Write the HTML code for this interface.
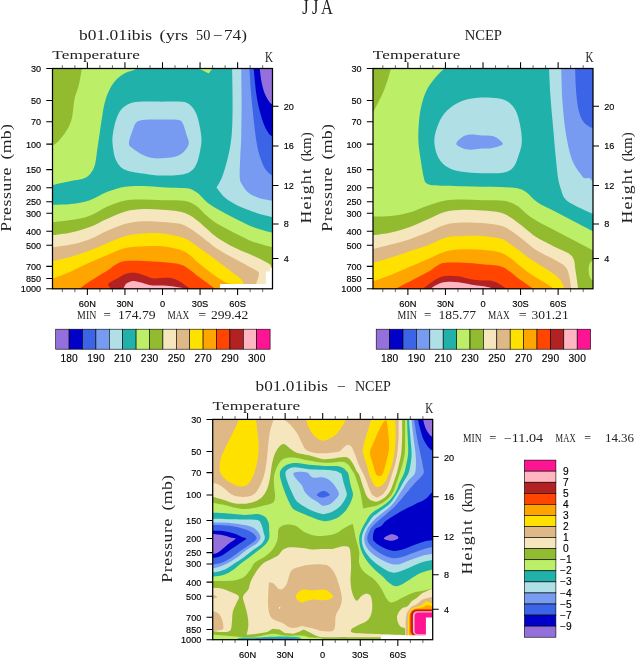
<!DOCTYPE html>
<html><head><meta charset="utf-8"><title>JJA Temperature</title>
<style>html,body{margin:0;padding:0;background:#fff}svg{display:block;will-change:transform}</style></head>
<body>
<svg width="636" height="659" viewBox="0 0 636 659">
<rect width="636" height="659" fill="#fff"/>
<text transform="translate(302.20,13.8) scale(0.7834,1)" font-size="21" font-family='"Liberation Serif", serif' fill="#222">J</text>
<text transform="translate(312.00,13.8) scale(0.7834,1)" font-size="21" font-family='"Liberation Serif", serif' fill="#222">J</text>
<text transform="translate(321.00,13.8) scale(0.7849,1)" font-size="21" font-family='"Liberation Serif", serif' fill="#222">A</text>
<g transform="translate(52.5,68.5)">
<clipPath id="clip52"><rect x="0" y="0" width="220.0" height="220.3"/></clipPath>
<g clip-path="url(#clip52)">
<rect x="0" y="0" width="220.0" height="220.3" fill="#20B2AA"/>
<path d="M82.5,-2.5C82.5,-1.9 84.2,-0.3 82.5,0.9C80.8,2.1 75.4,2.9 72.2,4.7C69.0,6.5 66.1,8.7 63.5,11.6C60.9,14.5 58.5,18.2 56.6,22.0C54.7,25.8 53.4,29.8 52.3,34.1C51.1,38.4 50.6,42.7 49.7,47.9C48.8,53.1 47.9,59.7 47.1,65.2C46.3,70.7 45.5,75.9 44.8,80.8C44.1,85.7 43.7,90.9 42.8,94.7C41.9,98.4 41.0,100.8 39.3,103.3C37.6,105.8 35.9,108.0 32.4,109.5C28.9,111.0 23.8,111.4 18.5,112.6C13.2,113.8 4.4,115.7 0.9,116.4C-2.6,117.1 -1.9,116.9 -2.5,117.0L-2.5,-2.5Z" fill="#BCEE68"/>
<path d="M29.8,-2.5C29.7,-2.0 29.9,-2.8 29.3,0.4C28.7,3.6 27.5,11.8 26.3,16.8C25.1,21.8 23.1,25.1 22.0,30.6C20.9,36.1 20.7,44.5 19.4,49.7C18.1,54.9 16.4,58.1 14.2,61.8C12.0,65.6 8.6,69.7 6.4,72.2C4.2,74.6 2.4,75.5 0.9,76.5C-0.6,77.5 -1.9,78.2 -2.5,78.5L-2.5,-2.5Z" fill="#93BB30"/>
<path d="M109.5,33.2C116.3,33.2 124.2,32.9 128.5,33.2C132.8,33.5 133.3,33.7 135.5,35.0C137.7,36.3 139.8,38.3 141.5,41.0C143.2,43.7 144.6,46.8 145.8,51.4C147.0,56.0 148.6,63.8 148.9,68.7C149.2,73.6 148.6,76.8 147.9,80.8C147.2,84.8 146.3,89.4 145.0,92.9C143.7,96.4 142.2,99.4 139.8,101.6C137.4,103.8 135.4,105.0 130.3,105.9C125.3,106.8 115.2,107.1 109.5,107.1C103.8,107.1 101.5,106.5 96.4,105.9C91.3,105.3 83.7,104.5 79.1,103.3C74.5,102.2 71.5,101.3 68.7,99.0C66.0,96.7 64.0,93.4 62.6,89.5C61.2,85.6 60.5,79.6 60.1,75.6C59.7,71.5 59.8,69.2 60.4,65.2C61.0,61.2 62.1,55.4 63.5,51.4C64.9,47.4 66.4,43.7 68.7,41.0C71.0,38.3 74.3,36.3 77.4,35.0C80.5,33.7 82.2,33.5 87.5,33.2C92.8,32.9 102.7,33.2 109.5,33.2Z" fill="#B0E0E6"/>
<path d="M109.5,51.1C115.1,51.1 122.4,50.8 125.9,51.4C129.4,52.0 129.0,52.6 130.3,54.9C131.6,57.2 132.7,61.9 133.7,65.2C134.7,68.5 136.6,71.9 136.3,74.8C136.0,77.7 134.2,80.3 132.0,82.5C129.8,84.7 127.1,86.9 123.3,88.1C119.6,89.3 113.4,89.6 109.5,89.8C105.6,90.0 103.1,90.1 99.8,89.5C96.5,88.9 93.0,87.7 89.5,86.0C86.0,84.3 81.3,81.1 79.1,79.1C76.9,77.1 76.2,77.1 76.5,73.9C76.8,70.7 79.5,63.5 80.8,60.1C82.1,56.7 82.4,55.0 84.3,53.5C86.3,52.0 88.3,51.7 92.5,51.3C96.7,50.9 103.9,51.1 109.5,51.1Z" fill="#789BF2"/>
<path d="M147.5,-2.5L159.5,-2.5L159.5,0.5L156.2,5.0L147.5,0.5Z" fill="#BCEE68"/>
<path d="M179.6,-2.5C179.6,-2.0 179.5,-5.6 179.6,0.5C179.7,6.6 180.1,24.2 180.1,34.1C180.1,44.0 180.0,52.9 179.6,60.1C179.2,67.3 178.7,71.9 177.8,77.4C176.9,82.9 175.8,87.6 174.4,92.9C173.0,98.2 170.9,105.2 169.2,109.5C167.5,113.8 164.9,117.4 164.0,119.0L164.0,119.0C165.3,120.6 168.8,125.8 171.8,128.5C174.8,131.2 178.2,133.3 182.2,135.5C186.2,137.7 191.7,139.8 196.0,141.5C200.3,143.2 204.2,144.7 208.1,145.8C212.0,147.0 217.1,147.9 219.5,148.4C221.9,148.9 222.0,148.9 222.5,149.0L222.5,-2.5Z" fill="#B0E0E6"/>
<path d="M188.7,-2.5C188.7,-2.0 188.6,-5.6 188.7,0.5C188.8,6.6 189.1,22.7 189.1,34.1C189.1,45.5 188.9,59.5 188.7,68.7C188.5,77.9 187.9,82.7 187.7,89.5C187.5,96.3 186.9,105.0 187.3,109.5C187.7,114.0 188.5,114.0 189.9,116.4C191.3,118.9 193.2,122.0 196.0,124.2C198.8,126.4 202.5,128.1 206.4,129.4C210.3,130.7 216.8,131.5 219.5,132.0C222.2,132.5 222.0,132.4 222.5,132.5L222.5,-2.5Z" fill="#789BF2"/>
<path d="M196.7,-2.5C196.7,-2.0 196.6,-4.2 196.9,0.5C197.2,5.2 197.9,17.0 198.6,25.5C199.3,34.0 200.2,42.8 201.2,51.4C202.2,60.1 203.3,70.2 204.7,77.4C206.1,84.6 208.1,90.4 209.8,94.7C211.5,99.0 213.4,101.3 215.0,103.3C216.6,105.3 218.2,105.9 219.5,106.8C220.8,107.7 222.0,108.2 222.5,108.5L222.5,-2.5Z" fill="#3C64E6"/>
<path d="M201.0,-2.5C201.0,-2.0 200.7,-4.2 201.2,0.5C201.7,5.2 202.8,18.4 203.8,25.5C204.8,32.5 206.0,37.6 207.3,42.8C208.6,48.0 210.2,53.0 211.6,56.6C213.0,60.2 214.6,62.5 215.9,64.4C217.2,66.3 218.4,66.9 219.5,67.8C220.6,68.7 222.0,69.6 222.5,70.0L222.5,-2.5Z" fill="#0000C8"/>
<path d="M207.1,-2.5C207.1,-2.0 207.0,-2.1 207.3,0.5C207.6,3.1 208.2,9.1 209.0,13.3C209.8,17.5 211.1,22.2 212.4,25.5C213.7,28.8 215.6,31.5 216.8,33.2C218.0,34.9 218.6,35.0 219.5,35.8C220.4,36.6 222.0,37.6 222.5,38.0L222.5,-2.5Z" fill="#9370DB"/>
<path d="M-2.5,136.5C-1.9,136.4 -2.6,136.5 0.9,136.3C4.4,136.1 12.5,136.2 18.5,135.5C24.5,134.8 30.6,134.0 36.7,132.0C42.8,130.0 48.9,125.6 54.9,123.3C61.0,121.0 67.0,119.1 73.0,118.2C79.0,117.2 85.1,117.5 91.2,117.6C97.3,117.7 103.4,118.4 109.5,118.7C115.6,119.0 123.1,119.2 127.7,119.4C132.3,119.7 134.2,119.2 137.2,120.2C140.2,121.1 142.9,122.8 145.8,125.1C148.7,127.3 151.3,131.1 154.5,133.7C157.7,136.3 160.2,137.8 164.9,140.6C169.7,143.3 176.9,147.2 183.0,150.2C189.1,153.2 195.1,156.5 201.2,158.8C207.3,161.1 215.9,163.0 219.5,164.0C223.1,165.0 222.0,164.8 222.5,165.0L222.5,223.5L-2.5,223.5Z" fill="#BCEE68"/>
<path d="M-2.5,154.0C-1.9,153.9 -2.6,154.0 0.9,153.6C4.4,153.2 12.5,152.5 18.5,151.5C24.5,150.5 30.6,149.8 36.7,147.6C42.8,145.3 48.9,140.6 54.9,138.0C61.0,135.4 67.0,133.2 73.0,132.0C79.0,130.8 85.1,131.1 91.2,131.1C97.3,131.1 103.4,131.7 109.5,131.8C115.6,132.0 123.1,131.7 127.7,132.0C132.3,132.3 134.2,132.5 137.2,133.7C140.2,134.8 142.9,136.6 145.8,138.9C148.7,141.2 151.3,144.9 154.5,147.6C157.7,150.3 160.2,152.4 164.9,155.3C169.7,158.2 176.9,161.9 183.0,164.9C189.1,167.9 195.1,171.2 201.2,173.5C207.3,175.8 215.9,177.7 219.5,178.7C223.1,179.7 222.0,179.5 222.5,179.7L222.5,223.5L-2.5,223.5Z" fill="#93BB30"/>
<path d="M-2.5,167.1C-1.9,167.0 -2.6,167.1 0.9,166.6C4.4,166.1 12.5,165.3 18.5,164.0C24.5,162.7 30.6,161.1 36.7,158.8C42.8,156.5 48.9,152.8 54.9,150.2C61.0,147.5 67.0,144.5 73.0,142.9C79.0,141.3 85.1,140.9 91.2,140.6C97.3,140.3 103.4,140.9 109.5,141.3C115.6,141.7 123.1,142.3 127.7,143.2C132.3,144.1 134.2,145.1 137.2,146.7C140.2,148.3 142.9,150.5 145.8,152.8C148.7,155.1 151.3,157.8 154.5,160.5C157.7,163.2 160.2,166.0 164.9,169.2C169.7,172.4 176.9,176.6 183.0,179.6C189.1,182.6 196.1,185.1 201.2,187.4C206.2,189.7 210.6,192.0 213.3,193.4C216.0,194.8 216.6,195.0 217.6,196.0C218.6,197.0 218.7,198.6 219.5,199.5C220.3,200.4 222.0,201.2 222.5,201.5L222.5,223.5L-2.5,223.5Z" fill="#F5E6BE"/>
<path d="M-2.5,179.3C-1.9,179.2 -2.6,179.2 0.9,178.7C4.4,178.2 12.5,177.4 18.5,176.1C24.5,174.8 30.6,173.2 36.7,170.9C42.8,168.6 48.9,164.9 54.9,162.3C61.0,159.7 67.0,156.9 73.0,155.3C79.0,153.7 85.1,153.1 91.2,152.8C97.3,152.5 103.4,153.0 109.5,153.4C115.6,153.8 123.1,154.2 127.7,155.3C132.3,156.4 134.2,158.0 137.2,159.7C140.2,161.4 142.9,163.5 145.8,165.7C148.7,167.8 151.3,170.1 154.5,172.6C157.7,175.1 160.2,177.4 164.9,180.4C169.7,183.4 177.8,187.9 183.0,190.8C188.2,193.7 192.5,195.8 196.0,197.7C199.5,199.6 202.1,200.9 203.8,202.1C205.5,203.3 206.1,203.4 206.4,204.7C206.7,206.0 205.9,208.0 205.5,209.8C205.1,211.6 204.1,213.1 203.8,215.4C203.5,217.7 203.6,222.2 203.5,223.5L-2.5,223.5Z" fill="#DEB887"/>
<path d="M-2.5,193.3C-1.9,193.2 -2.6,193.3 0.9,192.5C4.4,191.7 12.5,189.9 18.5,188.2C24.5,186.5 30.6,184.5 36.7,182.2C42.8,179.9 48.9,176.8 54.9,174.4C61.0,172.0 67.0,169.1 73.0,167.5C79.0,165.9 85.1,165.3 91.2,164.9C97.3,164.5 103.4,164.3 109.5,164.9C115.6,165.5 123.1,167.0 127.7,168.3C132.3,169.6 134.2,170.9 137.2,172.6C140.2,174.3 142.9,176.7 145.8,178.7C148.7,180.7 151.3,182.5 154.5,184.8C157.7,187.1 160.9,189.5 164.9,192.5C168.9,195.5 175.2,200.3 178.7,202.9C182.1,205.5 183.7,206.5 185.6,208.1C187.5,209.7 189.0,211.2 189.9,212.4C190.8,213.6 190.6,213.5 190.8,215.4C191.0,217.2 191.0,222.2 191.0,223.5L-2.5,223.5Z" fill="#FFE100"/>
<path d="M-2.5,211.1C-1.9,210.9 -2.6,211.2 0.9,209.8C4.4,208.4 12.5,205.5 18.5,202.9C24.5,200.3 30.6,197.0 36.7,194.3C42.8,191.6 48.9,188.9 54.9,186.5C61.0,184.1 67.0,181.0 73.0,179.6C79.0,178.2 85.1,178.1 91.2,177.8C97.3,177.5 103.4,177.2 109.5,177.8C115.6,178.4 123.1,179.9 127.7,181.3C132.3,182.8 134.2,184.3 137.2,186.5C140.2,188.7 142.9,191.9 145.8,194.3C148.7,196.8 151.3,198.8 154.5,201.2C157.7,203.6 161.7,206.8 164.9,209.0C168.1,211.2 171.5,213.1 173.5,214.2C175.5,215.3 176.2,213.8 177.0,215.4C177.8,216.9 178.2,222.2 178.5,223.5L-2.5,223.5Z" fill="#FFA500"/>
<path d="M23.5,223.5C24.2,222.8 25.8,221.2 28.0,219.5C30.2,217.8 32.2,216.2 36.7,213.3C41.2,210.4 50.4,205.0 54.9,202.1C59.4,199.2 60.5,197.6 63.5,196.0C66.5,194.4 68.4,193.1 73.0,192.5C77.6,191.9 85.1,192.3 91.2,192.5C97.3,192.7 103.4,193.0 109.5,193.6C115.6,194.2 123.1,194.7 127.7,196.0C132.3,197.3 134.2,199.2 137.2,201.2C140.2,203.2 142.9,205.9 145.8,208.1C148.7,210.3 151.9,212.3 154.5,214.2C157.1,216.1 159.6,217.9 161.4,219.5C163.2,221.1 164.8,222.8 165.5,223.5Z" fill="#FF4500"/>
<path d="M58.0,223.5C58.0,222.8 58.1,220.9 57.8,219.5C57.5,218.1 54.8,216.9 56.0,215.3C57.2,213.7 62.4,211.4 65.2,209.8C68.0,208.2 70.1,206.4 73.0,205.5C75.9,204.6 79.2,204.0 82.5,204.3C85.8,204.6 90.0,206.4 92.9,207.3C95.8,208.2 97.0,209.5 99.8,209.8C102.6,210.2 106.2,209.4 109.5,209.4C112.8,209.4 116.9,209.2 119.9,209.8C122.9,210.5 125.4,212.0 127.7,213.3C130.0,214.6 132.3,216.6 133.7,217.6C135.1,218.6 135.3,218.5 136.3,219.5C137.3,220.5 139.0,222.8 139.5,223.5Z" fill="#B22222"/>
<path d="M69.5,223.5C69.8,222.8 70.6,220.9 71.3,219.5C72.0,218.1 72.3,216.2 73.9,215.0C75.5,213.8 78.2,212.5 80.8,212.4C83.4,212.3 86.6,213.5 89.5,214.2C92.4,214.9 94.8,216.3 98.1,216.8C101.4,217.3 106.5,217.0 109.5,217.1C112.5,217.2 114.2,217.3 116.4,217.5C118.6,217.7 120.7,217.9 122.5,218.2C124.3,218.5 126.2,218.8 127.5,219.1C128.8,219.4 129.8,219.4 130.5,220.1C131.2,220.8 131.3,222.9 131.5,223.5Z" fill="#FFB6C1"/>
<path d="M167.5,215.4L213.3,215.4L213.3,203.0L217.5,203.0L217.5,199.5L222.5,199.5L222.5,223.5L167.5,223.5Z" fill="#fff"/>
</g>
<rect x="0" y="0" width="220.0" height="220.3" fill="none" stroke="#000" stroke-width="1.25"/>
<path d="M-6.2,0.00H0 M-6.2,32.09H0 M-6.2,53.23H0 M-6.2,75.64H0 M-6.2,101.11H0 M-6.2,119.19H0 M-6.2,133.21H0 M-6.2,144.66H0 M-6.2,162.73H0 M-6.2,176.75H0 M-6.2,197.89H0 M-6.2,210.09H0 M-6.2,220.30H0 M220.0,189.90h6 M220.0,155.41h6 M220.0,117.05h6 M220.0,77.44h6 M220.0,37.79h6 M185.12,0v-6.3 M185.12,220.3v6.3 M147.56,0v-6.3 M147.56,220.3v6.3 M110.00,0v-6.3 M110.00,220.3v6.3 M72.44,0v-6.3 M72.44,220.3v6.3 M34.88,0v-6.3 M34.88,220.3v6.3" stroke="#000" stroke-width="1.05" fill="none"/>
<path d="M210.16,0v-3.3 M210.16,220.3v3.3 M197.64,0v-3.3 M197.64,220.3v3.3 M172.60,0v-3.3 M172.60,220.3v3.3 M160.08,0v-3.3 M160.08,220.3v3.3 M135.04,0v-3.3 M135.04,220.3v3.3 M122.52,0v-3.3 M122.52,220.3v3.3 M97.48,0v-3.3 M97.48,220.3v3.3 M84.96,0v-3.3 M84.96,220.3v3.3 M59.92,0v-3.3 M59.92,220.3v3.3 M47.40,0v-3.3 M47.40,220.3v3.3 M22.36,0v-3.3 M22.36,220.3v3.3 M9.84,0v-3.3 M9.84,220.3v3.3" stroke="#000" stroke-width="0.6" fill="none"/>
<text transform="translate(-11.4,3.40) scale(0.93,1)" font-size="9.8" font-family='"Liberation Sans", sans-serif' text-anchor="end" stroke="#000" stroke-width="0.15">30</text>
<text transform="translate(-11.4,35.49) scale(0.93,1)" font-size="9.8" font-family='"Liberation Sans", sans-serif' text-anchor="end" stroke="#000" stroke-width="0.15">50</text>
<text transform="translate(-11.4,56.63) scale(0.93,1)" font-size="9.8" font-family='"Liberation Sans", sans-serif' text-anchor="end" stroke="#000" stroke-width="0.15">70</text>
<text transform="translate(-11.4,79.04) scale(0.93,1)" font-size="9.8" font-family='"Liberation Sans", sans-serif' text-anchor="end" stroke="#000" stroke-width="0.15">100</text>
<text transform="translate(-11.4,104.51) scale(0.93,1)" font-size="9.8" font-family='"Liberation Sans", sans-serif' text-anchor="end" stroke="#000" stroke-width="0.15">150</text>
<text transform="translate(-11.4,122.59) scale(0.93,1)" font-size="9.8" font-family='"Liberation Sans", sans-serif' text-anchor="end" stroke="#000" stroke-width="0.15">200</text>
<text transform="translate(-11.4,136.61) scale(0.93,1)" font-size="9.8" font-family='"Liberation Sans", sans-serif' text-anchor="end" stroke="#000" stroke-width="0.15">250</text>
<text transform="translate(-11.4,148.06) scale(0.93,1)" font-size="9.8" font-family='"Liberation Sans", sans-serif' text-anchor="end" stroke="#000" stroke-width="0.15">300</text>
<text transform="translate(-11.4,166.13) scale(0.93,1)" font-size="9.8" font-family='"Liberation Sans", sans-serif' text-anchor="end" stroke="#000" stroke-width="0.15">400</text>
<text transform="translate(-11.4,180.15) scale(0.93,1)" font-size="9.8" font-family='"Liberation Sans", sans-serif' text-anchor="end" stroke="#000" stroke-width="0.15">500</text>
<text transform="translate(-11.4,201.29) scale(0.93,1)" font-size="9.8" font-family='"Liberation Sans", sans-serif' text-anchor="end" stroke="#000" stroke-width="0.15">700</text>
<text transform="translate(-11.4,213.49) scale(0.93,1)" font-size="9.8" font-family='"Liberation Sans", sans-serif' text-anchor="end" stroke="#000" stroke-width="0.15">850</text>
<text transform="translate(-11.4,223.70) scale(0.93,1)" font-size="9.8" font-family='"Liberation Sans", sans-serif' text-anchor="end" stroke="#000" stroke-width="0.15">1000</text>
<text transform="translate(231.3,193.30) scale(0.93,1)" font-size="9.8" font-family='"Liberation Sans", sans-serif' text-anchor="start" stroke="#000" stroke-width="0.15">4</text>
<text transform="translate(231.3,158.81) scale(0.93,1)" font-size="9.8" font-family='"Liberation Sans", sans-serif' text-anchor="start" stroke="#000" stroke-width="0.15">8</text>
<text transform="translate(231.3,120.45) scale(0.93,1)" font-size="9.8" font-family='"Liberation Sans", sans-serif' text-anchor="start" stroke="#000" stroke-width="0.15">12</text>
<text transform="translate(231.3,80.84) scale(0.93,1)" font-size="9.8" font-family='"Liberation Sans", sans-serif' text-anchor="start" stroke="#000" stroke-width="0.15">16</text>
<text transform="translate(231.3,41.19) scale(0.93,1)" font-size="9.8" font-family='"Liberation Sans", sans-serif' text-anchor="start" stroke="#000" stroke-width="0.15">20</text>
<text transform="translate(34.88,238.5) scale(0.95,1)" font-size="9.8" font-family='"Liberation Sans", sans-serif' text-anchor="middle" stroke="#000" stroke-width="0.15">60N</text>
<text transform="translate(72.44,238.5) scale(0.95,1)" font-size="9.8" font-family='"Liberation Sans", sans-serif' text-anchor="middle" stroke="#000" stroke-width="0.15">30N</text>
<text transform="translate(110.00,238.5) scale(0.95,1)" font-size="9.8" font-family='"Liberation Sans", sans-serif' text-anchor="middle" stroke="#000" stroke-width="0.15">0</text>
<text transform="translate(147.56,238.5) scale(0.95,1)" font-size="9.8" font-family='"Liberation Sans", sans-serif' text-anchor="middle" stroke="#000" stroke-width="0.15">30S</text>
<text transform="translate(185.12,238.5) scale(0.95,1)" font-size="9.8" font-family='"Liberation Sans", sans-serif' text-anchor="middle" stroke="#000" stroke-width="0.15">60S</text>
<text transform="translate(26.50,-28.4) scale(1.2288,1)" font-size="14.2" font-family='"Liberation Serif", serif' fill="#222">b01.01ibis</text>
<text transform="translate(107.10,-28.4) scale(1.2862,1)" font-size="14.2" font-family='"Liberation Serif", serif' fill="#222">(yrs</text>
<text transform="translate(143.60,-28.4) scale(1.0070,1)" font-size="14.2" font-family='"Liberation Serif", serif' fill="#222">50</text>
<text transform="translate(160.30,-28.4) scale(1.1987,1)" font-size="14.2" font-family='"Liberation Serif", serif' fill="#222">&#8722;</text>
<text transform="translate(171.40,-28.4) scale(1.2151,1)" font-size="14.2" font-family='"Liberation Serif", serif' fill="#222">74)</text>
<text transform="translate(-0.20,-9.9) scale(1.3000,1)" font-size="13.2" font-family='"Liberation Serif", serif' letter-spacing="0.096" fill="#222">Temperature</text>
<text transform="translate(212.50,-6.6) scale(0.7589,1)" font-size="14.6" font-family='"Liberation Serif", serif' fill="#222">K</text>
<text transform="translate(-41.1,163.30) rotate(-90) scale(1.3000,1)" font-size="13.6" font-family='"Liberation Serif", serif' letter-spacing="0.462" fill="#222">Pressure</text>
<text transform="translate(-41.1,91.00) rotate(-90) scale(1.3000,1)" font-size="13.6" font-family='"Liberation Serif", serif' letter-spacing="0.264" fill="#222">(mb)</text>
<text transform="translate(258.8,155.10) rotate(-90) scale(1.3000,1)" font-size="13.6" font-family='"Liberation Serif", serif' letter-spacing="0.981" fill="#222">Height</text>
<text transform="translate(258.8,92.90) rotate(-90) scale(1.1007,1)" font-size="13.6" font-family='"Liberation Serif", serif' fill="#222">(km)</text>
</g>
<g transform="translate(373.0,68.5)">
<clipPath id="clip373"><rect x="0" y="0" width="220.0" height="220.3"/></clipPath>
<g clip-path="url(#clip373)">
<rect x="0" y="0" width="220.0" height="220.3" fill="#BCEE68"/>
<path d="M18.2,-2.5C18.1,-2.0 18.3,-1.9 17.7,0.4C17.1,2.8 15.9,7.7 14.6,11.6C13.4,15.5 11.8,20.0 10.2,23.7C8.6,27.5 6.6,31.1 5.1,34.1C3.6,37.1 2.5,39.5 1.1,41.9C-0.2,44.3 -2.3,47.4 -3.0,48.5L-3.0,-2.5Z" fill="#93BB30"/>
<path d="M73.0,-2.5C72.6,-2.0 72.5,-1.4 70.8,0.4C69.1,2.2 65.7,4.9 63.0,8.2C60.3,11.5 56.7,16.0 54.4,20.3C52.1,24.6 50.6,28.9 49.2,34.1C47.8,39.3 46.7,45.1 46.1,51.4C45.5,57.8 45.2,65.8 45.4,72.2C45.6,78.5 46.5,83.3 47.4,89.5C48.3,95.7 49.9,105.3 50.9,109.5C51.9,113.7 52.0,113.5 53.5,114.7C55.0,115.9 56.4,116.4 59.6,116.8C62.8,117.2 67.3,117.1 72.5,117.3C77.7,117.5 84.6,117.7 90.7,117.8C96.8,118.0 102.9,118.1 109.0,118.2C115.1,118.3 121.1,118.2 127.2,118.5C133.2,118.8 140.8,119.0 145.3,119.9C149.8,120.9 150.8,121.9 154.0,124.2C157.2,126.5 159.6,130.5 164.4,133.7C169.1,136.9 176.4,140.0 182.5,143.2C188.6,146.4 194.6,149.6 200.7,152.8C206.8,156.0 215.3,160.4 219.0,162.3C222.7,164.2 222.3,164.1 223.0,164.5L223.0,-2.5Z" fill="#20B2AA"/>
<path d="M109.0,28.9C113.8,28.8 120.3,29.1 124.6,29.8C128.9,30.5 132.0,31.2 135.0,33.2C138.0,35.2 140.7,38.0 142.7,41.9C144.7,45.8 146.1,51.3 147.1,56.6C148.1,61.9 149.1,68.7 148.8,73.9C148.5,79.1 146.7,83.5 145.3,87.7C143.8,91.9 142.7,96.2 140.1,99.0C137.5,101.8 135.0,103.2 129.8,104.2C124.6,105.1 115.8,104.8 109.0,104.7C102.2,104.5 94.6,104.3 89.0,103.3C83.4,102.4 79.0,101.3 75.1,99.0C71.2,96.7 67.9,94.0 65.6,89.5C63.3,85.0 61.3,78.0 61.3,72.2C61.3,66.4 63.6,59.8 65.6,54.9C67.6,50.0 70.4,46.1 73.4,42.8C76.4,39.5 80.1,37.0 83.8,35.0C87.6,33.0 91.7,31.6 95.9,30.6C100.1,29.6 104.2,29.0 109.0,28.9Z" fill="#B0E0E6"/>
<path d="M109.0,67.0C112.6,67.2 116.7,66.9 119.4,67.5C122.1,68.1 123.7,69.1 125.4,70.4C127.1,71.7 129.9,74.0 129.8,75.3C129.7,76.6 126.9,77.4 124.6,78.2C122.3,79.0 118.5,79.7 115.9,80.0C113.3,80.3 112.0,79.9 109.0,80.1C106.0,80.3 100.9,81.3 97.6,81.2C94.3,81.1 91.4,80.4 89.0,79.4C86.6,78.4 83.3,77.1 83.3,75.3C83.3,73.5 86.6,70.2 89.0,68.7C91.4,67.2 94.3,66.4 97.6,66.1C100.9,65.8 105.4,66.8 109.0,67.0Z" fill="#789BF2"/>
<path d="M176.0,-2.5C176.0,-2.0 175.9,-4.3 176.1,0.4C176.3,5.1 176.7,16.1 177.3,25.5C177.9,34.9 179.0,46.5 179.9,56.6C180.8,66.7 181.6,77.2 182.5,86.0C183.4,94.8 184.2,103.8 185.1,109.5C186.0,115.2 186.6,116.4 187.7,119.9C188.9,123.4 189.6,127.4 192.0,130.3C194.4,133.2 197.9,134.8 202.4,137.2C206.9,139.6 215.6,143.4 219.0,145.0C222.4,146.6 222.3,146.7 223.0,147.0L223.0,-2.5Z" fill="#B0E0E6"/>
<path d="M188.1,-2.5C188.1,-2.0 188.0,-5.7 188.2,0.4C188.4,6.5 188.7,23.3 189.5,34.1C190.3,44.9 191.3,55.7 192.9,65.2C194.5,74.7 196.4,84.3 199.0,91.2C201.6,98.1 206.5,103.8 208.5,106.8C210.5,109.9 209.7,109.0 211.0,109.5C212.3,110.0 215.0,109.1 216.3,109.5C217.6,109.9 217.9,111.1 219.0,112.1C220.1,113.1 222.3,114.9 223.0,115.5L223.0,-2.5Z" fill="#789BF2"/>
<path d="M202.0,-2.5C202.0,-2.0 201.9,-4.3 202.1,0.4C202.3,5.1 202.7,18.4 203.3,25.5C203.9,32.6 204.7,38.2 205.9,42.8C207.0,47.4 208.5,50.5 210.2,53.1C211.9,55.7 214.8,57.3 216.3,58.3C217.8,59.3 217.9,58.9 219.0,59.2C220.1,59.5 222.3,59.9 223.0,60.0L223.0,-2.5Z" fill="#3C64E6"/>
<path d="M-3.0,148.0C-2.4,148.0 -2.8,148.0 0.7,147.9C4.2,147.8 12.1,148.2 18.0,147.6C23.9,147.0 30.1,145.8 36.2,144.1C42.3,142.4 48.3,139.2 54.4,137.2C60.4,135.2 66.5,133.0 72.5,132.0C78.5,131.0 84.6,131.1 90.7,131.1C96.8,131.1 102.9,131.7 109.0,131.8C115.1,132.0 122.6,131.7 127.2,132.0C131.8,132.3 133.7,132.7 136.7,133.7C139.7,134.7 142.4,136.0 145.3,138.0C148.2,140.0 150.8,143.3 154.0,145.8C157.2,148.3 159.6,150.1 164.4,152.8C169.1,155.6 176.4,159.1 182.5,162.3C188.6,165.5 194.6,168.6 200.7,171.8C206.8,175.0 215.3,179.4 219.0,181.3C222.7,183.2 222.3,183.1 223.0,183.5L223.0,223.5L-3.0,223.5Z" fill="#93BB30"/>
<path d="M223.0,190.5C222.3,190.8 220.1,191.7 219.0,192.5C217.9,193.3 217.1,194.0 216.5,195.5C215.9,197.0 215.6,199.5 215.6,201.5C215.6,203.5 215.9,205.8 216.5,207.5C217.1,209.2 217.9,210.7 219.0,211.5C220.1,212.3 222.3,212.3 223.0,212.5Z" fill="#BCEE68"/>
<path d="M-3.0,167.1C-2.4,167.0 -2.8,167.1 0.7,166.6C4.2,166.1 12.1,165.3 18.0,164.0C23.9,162.7 30.1,161.0 36.2,158.8C42.3,156.6 48.3,153.6 54.4,151.0C60.4,148.4 66.5,144.8 72.5,143.2C78.5,141.6 84.6,141.4 90.7,141.2C96.8,141.0 102.9,141.6 109.0,142.1C115.1,142.6 122.6,143.0 127.2,144.1C131.8,145.2 133.7,146.7 136.7,148.4C139.7,150.1 142.4,152.3 145.3,154.5C148.2,156.7 150.8,159.0 154.0,161.4C157.2,163.8 159.6,166.3 164.4,169.2C169.1,172.1 177.3,176.1 182.5,178.7C187.7,181.3 192.5,182.8 195.5,184.8C198.5,186.8 199.6,188.1 200.7,190.8C201.9,193.5 201.8,197.4 202.4,201.2C203.0,204.9 203.8,210.2 204.2,213.3C204.6,216.4 204.8,217.8 205.0,219.5C205.2,221.2 205.2,222.8 205.3,223.5L-3.0,223.5Z" fill="#F5E6BE"/>
<path d="M-3.0,181.3C-2.4,181.2 -2.8,181.3 0.7,180.4C4.2,179.5 12.1,177.7 18.0,176.1C23.9,174.5 30.1,172.9 36.2,170.9C42.3,168.9 48.3,166.4 54.4,164.0C60.4,161.6 66.5,157.8 72.5,156.2C78.5,154.5 84.6,154.4 90.7,154.1C96.8,153.8 102.9,154.1 109.0,154.6C115.1,155.1 122.6,156.0 127.2,157.1C131.8,158.2 133.7,159.7 136.7,161.4C139.7,163.1 142.4,165.3 145.3,167.5C148.2,169.7 150.8,172.0 154.0,174.4C157.2,176.8 159.6,179.3 164.4,182.2C169.1,185.1 177.9,189.1 182.5,191.7C187.1,194.3 189.8,195.5 192.0,197.7C194.2,199.9 194.6,202.1 195.5,204.7C196.4,207.3 196.8,210.8 197.2,213.3C197.6,215.8 197.9,217.8 198.1,219.5C198.3,221.2 198.3,222.8 198.4,223.5L-3.0,223.5Z" fill="#DEB887"/>
<path d="M-3.0,195.3C-2.4,195.1 -2.8,195.3 0.7,194.3C4.2,193.3 12.1,191.0 18.0,189.1C23.9,187.2 30.1,185.0 36.2,183.0C42.3,181.0 48.3,179.3 54.4,177.0C60.4,174.7 66.5,170.8 72.5,169.2C78.5,167.6 84.6,167.8 90.7,167.5C96.8,167.2 102.9,167.1 109.0,167.5C115.1,167.9 122.6,168.8 127.2,170.1C131.8,171.4 133.7,173.3 136.7,175.2C139.7,177.1 142.4,179.1 145.3,181.3C148.2,183.5 150.8,185.9 154.0,188.2C157.2,190.5 160.4,192.5 164.4,195.1C168.4,197.7 174.8,201.5 178.2,203.8C181.7,206.1 183.2,207.1 185.1,209.0C187.0,210.9 188.5,213.2 189.5,215.0C190.5,216.8 190.8,218.1 191.2,219.5C191.6,220.9 191.9,222.8 192.0,223.5L-3.0,223.5Z" fill="#FFE100"/>
<path d="M-3.0,213.5C-2.4,213.3 -2.8,213.6 0.7,212.4C4.2,211.2 12.1,208.7 18.0,206.4C23.9,204.1 30.1,201.2 36.2,198.6C42.3,196.0 48.3,193.4 54.4,190.8C60.4,188.2 66.5,184.7 72.5,183.0C78.5,181.3 84.6,181.1 90.7,180.8C96.8,180.5 102.9,180.8 109.0,181.3C115.1,181.8 122.6,182.6 127.2,183.9C131.8,185.2 133.7,187.1 136.7,189.1C139.7,191.1 142.4,193.7 145.3,196.0C148.2,198.3 150.8,200.6 154.0,202.9C157.2,205.2 160.9,207.6 164.4,209.8C167.8,212.0 172.1,214.3 174.7,215.9C177.3,217.5 178.3,218.2 179.9,219.5C181.4,220.8 183.3,222.8 184.0,223.5L-3.0,223.5Z" fill="#FFA500"/>
<path d="M19.0,223.5C19.9,222.8 21.2,221.2 24.1,219.5C27.0,217.8 31.1,215.9 36.2,213.3C41.2,210.7 49.6,206.5 54.4,203.8C59.1,201.1 61.7,198.5 64.7,196.9C67.7,195.3 68.2,194.7 72.5,194.3C76.8,193.9 84.6,194.1 90.7,194.3C96.8,194.5 102.9,195.1 109.0,195.7C115.1,196.3 122.6,196.5 127.2,197.7C131.8,198.9 133.7,200.9 136.7,202.9C139.7,204.9 142.4,207.6 145.3,209.8C148.2,212.0 151.7,214.3 154.0,215.9C156.3,217.5 157.7,218.2 159.2,219.5C160.7,220.8 162.4,222.8 163.0,223.5Z" fill="#FF4500"/>
<path d="M47.0,223.5C47.6,222.8 49.1,221.1 50.9,219.5C52.7,217.9 55.2,215.9 57.8,214.2C60.4,212.4 63.6,210.2 66.5,209.0C69.4,207.8 71.9,207.5 75.1,207.3C78.3,207.1 81.8,207.2 85.5,207.8C89.2,208.4 93.7,210.0 97.6,210.7C101.5,211.4 105.4,211.7 109.0,212.0C112.6,212.3 116.4,211.7 119.4,212.4C122.4,213.0 125.0,214.7 127.2,215.9C129.4,217.1 130.9,218.2 132.4,219.5C133.9,220.8 135.4,222.8 136.0,223.5Z" fill="#B22222"/>
<path d="M55.0,223.5C55.6,222.8 56.8,220.9 58.7,219.5C60.6,218.1 63.8,216.0 66.5,215.0C69.2,214.0 71.9,213.5 75.1,213.3C78.3,213.1 81.8,213.3 85.5,213.7C89.2,214.1 93.7,215.2 97.6,215.9C101.5,216.5 106.2,217.2 109.0,217.6C111.8,218.0 112.7,218.2 114.2,218.5C115.6,218.8 116.6,218.7 117.7,219.5C118.8,220.3 120.5,222.8 121.0,223.5Z" fill="#FFB6C1"/>
</g>
<rect x="0" y="0" width="220.0" height="220.3" fill="none" stroke="#000" stroke-width="1.25"/>
<path d="M-6.2,0.00H0 M-6.2,32.09H0 M-6.2,53.23H0 M-6.2,75.64H0 M-6.2,101.11H0 M-6.2,119.19H0 M-6.2,133.21H0 M-6.2,144.66H0 M-6.2,162.73H0 M-6.2,176.75H0 M-6.2,197.89H0 M-6.2,210.09H0 M-6.2,220.30H0 M220.0,189.90h6 M220.0,155.41h6 M220.0,117.05h6 M220.0,77.44h6 M220.0,37.79h6 M185.12,0v-6.3 M185.12,220.3v6.3 M147.56,0v-6.3 M147.56,220.3v6.3 M110.00,0v-6.3 M110.00,220.3v6.3 M72.44,0v-6.3 M72.44,220.3v6.3 M34.88,0v-6.3 M34.88,220.3v6.3" stroke="#000" stroke-width="1.05" fill="none"/>
<path d="M210.16,0v-3.3 M210.16,220.3v3.3 M197.64,0v-3.3 M197.64,220.3v3.3 M172.60,0v-3.3 M172.60,220.3v3.3 M160.08,0v-3.3 M160.08,220.3v3.3 M135.04,0v-3.3 M135.04,220.3v3.3 M122.52,0v-3.3 M122.52,220.3v3.3 M97.48,0v-3.3 M97.48,220.3v3.3 M84.96,0v-3.3 M84.96,220.3v3.3 M59.92,0v-3.3 M59.92,220.3v3.3 M47.40,0v-3.3 M47.40,220.3v3.3 M22.36,0v-3.3 M22.36,220.3v3.3 M9.84,0v-3.3 M9.84,220.3v3.3" stroke="#000" stroke-width="0.6" fill="none"/>
<text transform="translate(-11.4,3.40) scale(0.93,1)" font-size="9.8" font-family='"Liberation Sans", sans-serif' text-anchor="end" stroke="#000" stroke-width="0.15">30</text>
<text transform="translate(-11.4,35.49) scale(0.93,1)" font-size="9.8" font-family='"Liberation Sans", sans-serif' text-anchor="end" stroke="#000" stroke-width="0.15">50</text>
<text transform="translate(-11.4,56.63) scale(0.93,1)" font-size="9.8" font-family='"Liberation Sans", sans-serif' text-anchor="end" stroke="#000" stroke-width="0.15">70</text>
<text transform="translate(-11.4,79.04) scale(0.93,1)" font-size="9.8" font-family='"Liberation Sans", sans-serif' text-anchor="end" stroke="#000" stroke-width="0.15">100</text>
<text transform="translate(-11.4,104.51) scale(0.93,1)" font-size="9.8" font-family='"Liberation Sans", sans-serif' text-anchor="end" stroke="#000" stroke-width="0.15">150</text>
<text transform="translate(-11.4,122.59) scale(0.93,1)" font-size="9.8" font-family='"Liberation Sans", sans-serif' text-anchor="end" stroke="#000" stroke-width="0.15">200</text>
<text transform="translate(-11.4,136.61) scale(0.93,1)" font-size="9.8" font-family='"Liberation Sans", sans-serif' text-anchor="end" stroke="#000" stroke-width="0.15">250</text>
<text transform="translate(-11.4,148.06) scale(0.93,1)" font-size="9.8" font-family='"Liberation Sans", sans-serif' text-anchor="end" stroke="#000" stroke-width="0.15">300</text>
<text transform="translate(-11.4,166.13) scale(0.93,1)" font-size="9.8" font-family='"Liberation Sans", sans-serif' text-anchor="end" stroke="#000" stroke-width="0.15">400</text>
<text transform="translate(-11.4,180.15) scale(0.93,1)" font-size="9.8" font-family='"Liberation Sans", sans-serif' text-anchor="end" stroke="#000" stroke-width="0.15">500</text>
<text transform="translate(-11.4,201.29) scale(0.93,1)" font-size="9.8" font-family='"Liberation Sans", sans-serif' text-anchor="end" stroke="#000" stroke-width="0.15">700</text>
<text transform="translate(-11.4,213.49) scale(0.93,1)" font-size="9.8" font-family='"Liberation Sans", sans-serif' text-anchor="end" stroke="#000" stroke-width="0.15">850</text>
<text transform="translate(-11.4,223.70) scale(0.93,1)" font-size="9.8" font-family='"Liberation Sans", sans-serif' text-anchor="end" stroke="#000" stroke-width="0.15">1000</text>
<text transform="translate(231.3,193.30) scale(0.93,1)" font-size="9.8" font-family='"Liberation Sans", sans-serif' text-anchor="start" stroke="#000" stroke-width="0.15">4</text>
<text transform="translate(231.3,158.81) scale(0.93,1)" font-size="9.8" font-family='"Liberation Sans", sans-serif' text-anchor="start" stroke="#000" stroke-width="0.15">8</text>
<text transform="translate(231.3,120.45) scale(0.93,1)" font-size="9.8" font-family='"Liberation Sans", sans-serif' text-anchor="start" stroke="#000" stroke-width="0.15">12</text>
<text transform="translate(231.3,80.84) scale(0.93,1)" font-size="9.8" font-family='"Liberation Sans", sans-serif' text-anchor="start" stroke="#000" stroke-width="0.15">16</text>
<text transform="translate(231.3,41.19) scale(0.93,1)" font-size="9.8" font-family='"Liberation Sans", sans-serif' text-anchor="start" stroke="#000" stroke-width="0.15">20</text>
<text transform="translate(34.88,238.5) scale(0.95,1)" font-size="9.8" font-family='"Liberation Sans", sans-serif' text-anchor="middle" stroke="#000" stroke-width="0.15">60N</text>
<text transform="translate(72.44,238.5) scale(0.95,1)" font-size="9.8" font-family='"Liberation Sans", sans-serif' text-anchor="middle" stroke="#000" stroke-width="0.15">30N</text>
<text transform="translate(110.00,238.5) scale(0.95,1)" font-size="9.8" font-family='"Liberation Sans", sans-serif' text-anchor="middle" stroke="#000" stroke-width="0.15">0</text>
<text transform="translate(147.56,238.5) scale(0.95,1)" font-size="9.8" font-family='"Liberation Sans", sans-serif' text-anchor="middle" stroke="#000" stroke-width="0.15">30S</text>
<text transform="translate(185.12,238.5) scale(0.95,1)" font-size="9.8" font-family='"Liberation Sans", sans-serif' text-anchor="middle" stroke="#000" stroke-width="0.15">60S</text>
<text transform="translate(91.70,-28.1) scale(1.0277,1)" font-size="14.2" font-family='"Liberation Serif", serif' fill="#222">NCEP</text>
<text transform="translate(-0.20,-9.9) scale(1.3000,1)" font-size="13.2" font-family='"Liberation Serif", serif' letter-spacing="0.096" fill="#222">Temperature</text>
<text transform="translate(212.50,-6.6) scale(0.7589,1)" font-size="14.6" font-family='"Liberation Serif", serif' fill="#222">K</text>
<text transform="translate(-41.1,163.30) rotate(-90) scale(1.3000,1)" font-size="13.6" font-family='"Liberation Serif", serif' letter-spacing="0.462" fill="#222">Pressure</text>
<text transform="translate(-41.1,91.00) rotate(-90) scale(1.3000,1)" font-size="13.6" font-family='"Liberation Serif", serif' letter-spacing="0.264" fill="#222">(mb)</text>
<text transform="translate(258.8,155.10) rotate(-90) scale(1.3000,1)" font-size="13.6" font-family='"Liberation Serif", serif' letter-spacing="0.981" fill="#222">Height</text>
<text transform="translate(258.8,92.90) rotate(-90) scale(1.1007,1)" font-size="13.6" font-family='"Liberation Serif", serif' fill="#222">(km)</text>
</g>
<g transform="translate(212.7,419.4)">
<clipPath id="clip212"><rect x="0" y="0" width="220.0" height="220.3"/></clipPath>
<g clip-path="url(#clip212)">
<rect x="0" y="0" width="220.0" height="220.3" fill="#93BB30"/>
<path d="M-2.7,-2.4L189.4,-2.4L189.4,-2.4C189.4,-1.8 189.4,-2.3 189.4,0.9C189.4,4.1 189.6,11.4 189.4,16.9C189.3,22.5 189.1,29.3 188.5,34.2C187.9,39.1 186.7,42.9 185.9,46.3C185.1,49.7 184.7,51.8 183.8,54.6C182.9,57.4 181.8,60.4 180.7,63.3C179.6,66.2 178.7,69.5 177.3,71.9C175.9,74.4 174.3,76.3 172.1,78.0C169.9,79.7 166.1,81.5 164.3,82.1C162.5,82.7 162.3,82.1 161.2,81.8C160.1,81.6 158.8,81.4 157.7,80.6C156.5,79.8 155.3,78.7 154.3,77.1C153.3,75.5 152.6,73.3 151.7,71.0C150.8,68.7 150.0,66.0 149.1,63.3C148.2,60.6 147.0,56.6 146.1,54.6C145.2,52.6 144.9,53.2 143.9,51.5C143.0,49.8 141.6,46.6 140.4,44.6C139.3,42.7 138.3,41.0 137.0,39.8C135.7,38.7 134.4,38.0 132.7,37.7C131.0,37.4 129.1,37.8 126.6,38.1C124.2,38.4 120.9,39.2 118.0,39.4C115.1,39.7 112.9,40.2 109.3,39.6C105.7,39.0 100.4,37.0 96.2,35.9C92.0,34.9 87.3,34.5 84.1,33.3C80.9,32.2 79.4,30.4 77.2,29.0C75.0,27.6 73.0,24.9 71.1,24.7C69.2,24.6 67.5,26.2 65.9,28.1C64.3,30.0 62.8,32.9 61.6,35.9C60.5,38.9 59.7,42.6 59.0,46.3C58.3,50.1 58.0,54.7 57.3,58.4C56.6,62.2 56.0,65.6 54.7,68.8C53.4,72.0 51.8,75.2 49.5,77.5C47.2,79.8 44.0,81.5 40.8,82.6C37.6,83.8 33.9,84.3 30.4,84.4C27.0,84.6 23.6,84.2 20.1,83.5C16.7,82.8 12.9,81.1 9.7,80.1C6.5,79.1 3.1,78.1 1.0,77.5C-1.1,76.9 -2.1,76.8 -2.7,76.6Z" fill="#F5E6BE"/>
<path d="M-2.7,168.1C-2.1,168.2 -1.1,168.2 1.0,168.4C3.1,168.6 6.8,168.6 9.7,169.3C12.6,170.0 15.6,171.4 18.3,172.7C21.0,174.0 25.2,175.2 26.1,177.1C27.0,179.0 24.5,181.4 23.5,184.0C22.5,186.6 20.8,189.4 20.1,192.6C19.4,195.8 19.6,199.9 19.2,203.0C18.8,206.1 19.1,209.4 17.5,211.0C15.9,212.6 12.5,212.6 9.7,212.7C7.0,212.8 3.1,212.0 1.0,211.8C-1.1,211.6 -2.1,211.6 -2.7,211.6Z" fill="#F5E6BE"/>
<path d="M33.9,215.3C34.2,213.8 35.5,209.7 35.6,206.5C35.8,203.3 35.4,199.6 34.8,196.1C34.2,192.6 32.9,188.9 32.2,185.7C31.5,182.5 29.8,179.7 30.4,177.1C31.0,174.5 34.3,172.8 35.6,170.2C36.9,167.6 36.8,164.7 38.2,161.5C39.7,158.3 42.1,154.1 44.3,151.1C46.5,148.1 48.6,145.3 51.2,143.3C53.8,141.3 57.5,140.3 59.9,139.0C62.4,137.7 64.2,137.0 65.9,135.6C67.6,134.2 68.3,131.7 70.2,130.4C72.1,129.1 74.0,128.1 77.2,127.8C80.4,127.5 85.6,128.2 89.3,128.6C93.1,129.0 96.4,129.8 99.7,130.0C103.0,130.2 106.0,129.6 109.3,129.5C112.6,129.4 116.2,129.9 119.7,129.5C123.2,129.1 127.4,127.2 130.1,126.9C132.8,126.6 134.8,126.7 136.1,127.8C137.4,129.0 137.4,130.5 137.8,133.8C138.2,137.1 138.4,143.1 138.4,147.7C138.4,152.3 137.6,157.2 137.8,161.5C138.0,165.8 138.6,170.3 139.6,173.6C140.6,176.9 142.5,180.8 143.9,181.4C145.3,182.0 146.8,178.3 148.2,177.1C149.6,176.0 151.0,174.7 152.6,174.5C154.2,174.3 156.5,174.6 157.7,176.2C158.8,177.8 159.3,181.0 159.5,184.0C159.7,187.0 159.5,191.5 158.6,194.4C157.7,197.3 156.8,199.3 154.3,201.3C151.9,203.3 146.5,205.1 143.9,206.5C141.3,207.9 139.4,208.8 138.7,209.9C138.0,211.0 137.6,212.4 139.6,213.1C141.6,213.8 146.3,213.8 150.8,214.0C155.3,214.2 161.8,214.4 166.4,214.6C171.0,214.8 174.2,214.9 178.5,215.1C182.8,215.3 190.0,215.5 192.3,215.6L192.3,217.9L109.3,217.9L105.3,217.1L101.4,215.3L96.2,212.7L91.0,210.1L85.8,212.7L80.6,214.4L72.0,213.6L66.8,210.1L59.9,209.3L54.7,212.7L44.3,214.4Z" fill="#F5E6BE"/>
<path d="M223.3,168.6C222.7,168.8 221.1,169.2 219.8,169.6C218.5,170.0 217.0,170.3 215.3,171.0C213.6,171.7 211.6,172.5 209.8,173.7C208.0,174.9 206.1,176.9 204.3,178.3C202.5,179.7 200.4,180.5 198.9,181.9C197.4,183.3 196.8,185.4 195.3,186.5C193.8,187.6 191.3,187.7 189.8,188.7C188.3,189.8 187.0,191.4 186.1,192.8C185.2,194.3 184.5,195.7 184.3,197.4C184.2,199.1 184.6,201.2 185.2,202.9C185.8,204.6 186.8,206.3 188.0,207.4C189.2,208.4 191.4,207.8 192.1,209.2C192.9,210.6 192.4,213.2 192.5,215.6C192.6,218.0 192.5,222.3 192.5,223.6L223.3,223.6Z" fill="#F5E6BE"/>
<path d="M-2.7,-2.4L60.9,-2.4L60.9,-2.4C60.9,-1.9 61.3,-1.9 60.7,0.5C60.1,2.9 58.2,7.5 57.3,11.7C56.4,15.9 56.1,20.4 55.5,25.6C54.9,30.8 54.5,37.7 53.8,42.9C53.1,48.1 52.5,52.4 51.2,56.7C49.9,61.0 47.9,65.6 46.0,68.8C44.1,72.0 42.6,74.3 40.0,75.7C37.4,77.2 33.7,77.5 30.4,77.5C27.1,77.5 23.3,77.2 20.1,75.7C16.9,74.3 13.7,70.5 11.4,68.8C9.1,67.1 7.9,66.2 6.2,65.3C4.5,64.4 2.5,64.0 1.0,63.6C-0.5,63.2 -2.1,63.2 -2.7,63.1Z" fill="#DEB887"/>
<path d="M71.3,-2.4L185.9,-2.4L185.9,-2.4C185.9,-1.8 185.9,-2.3 185.9,0.9C185.9,4.1 186.1,11.4 185.9,16.9C185.7,22.5 185.3,29.3 184.6,34.2C184.0,39.1 182.9,42.9 182.0,46.3C181.1,49.7 180.2,52.1 179.4,54.6C178.6,57.1 178.1,59.2 177.3,61.5C176.5,63.8 175.8,66.2 174.7,68.4C173.5,70.6 172.1,72.9 170.4,74.5C168.7,76.1 165.6,77.5 164.3,78.0C163.1,78.5 163.7,77.9 162.9,77.5C162.1,77.1 160.5,76.6 159.5,75.4C158.5,74.2 157.8,72.2 156.9,70.2C156.0,68.2 155.3,65.9 154.3,63.3C153.3,60.7 152.1,57.4 150.8,54.6C149.5,51.8 147.7,48.8 146.5,46.3C145.3,43.8 144.8,41.7 143.9,39.4C143.0,37.1 142.2,34.5 141.3,32.5C140.4,30.5 139.7,28.5 138.7,27.3C137.7,26.1 136.6,25.3 135.3,25.4C134.0,25.5 132.4,27.0 130.9,28.1C129.5,29.2 128.8,31.1 126.6,32.0C124.5,32.9 120.9,33.0 118.0,33.3C115.1,33.6 112.1,33.9 109.3,33.9C106.5,33.9 104.0,33.8 101.4,33.3C98.8,32.8 95.6,32.3 93.6,30.7C91.6,29.1 90.9,26.7 89.3,23.8C87.7,20.9 86.1,16.6 84.1,13.4C82.1,10.2 79.2,7.0 77.2,4.8C75.2,2.7 73.0,1.7 72.0,0.5C71.0,-0.7 71.4,-1.9 71.3,-2.4Z" fill="#DEB887"/>
<path d="M56.4,163.2C57.2,162.8 58.8,162.9 60.7,164.1C62.6,165.3 65.4,170.1 67.6,170.2C69.8,170.4 71.8,168.2 73.7,165.0C75.6,161.8 76.3,154.1 78.9,151.1C81.5,148.1 85.8,147.8 89.3,146.8C92.8,145.8 96.4,145.4 99.7,145.1C103.0,144.8 106.6,144.8 109.3,145.1C112.1,145.4 114.0,145.2 116.2,146.8C118.4,148.4 120.6,151.3 122.3,154.6C124.0,157.9 125.5,162.7 126.6,166.7C127.8,170.7 129.0,175.4 129.2,178.8C129.3,182.3 128.5,184.5 127.5,187.4C126.5,190.3 124.0,192.9 123.1,196.1C122.2,199.3 122.9,203.9 122.3,206.5C121.7,209.1 121.9,210.8 119.7,211.7C117.5,212.6 112.1,212.0 109.3,211.7C106.5,211.4 105.3,210.5 103.1,209.9C100.9,209.3 98.5,208.8 96.2,208.2C93.9,207.6 91.3,206.5 89.3,206.5C87.3,206.5 86.1,207.9 84.1,208.2C82.1,208.5 79.5,208.9 77.2,208.2C74.9,207.5 72.8,205.2 70.2,203.9C67.6,202.6 63.8,201.7 61.6,200.4C59.5,199.1 58.3,198.3 57.3,196.1C56.3,193.9 55.8,190.9 55.5,187.4C55.2,183.9 55.4,178.8 55.5,175.3C55.6,171.9 55.8,168.7 56.0,166.7C56.2,164.7 55.6,163.6 56.4,163.2Z" fill="#DEB887"/>
<path d="M-2.7,191.6C-2.1,191.6 -0.5,191.3 1.0,191.8C2.5,192.3 4.8,192.8 6.2,194.4C7.7,196.0 9.0,198.9 9.7,201.3C10.4,203.8 11.1,207.5 10.5,209.1C9.9,210.7 7.8,210.4 6.2,210.8C4.6,211.2 2.5,211.2 1.0,211.3C-0.5,211.4 -2.1,211.4 -2.7,211.4Z" fill="#DEB887"/>
<path d="M-2.7,175.4C-2.1,175.5 -0.2,175.5 1.0,175.8C2.2,176.1 4.4,176.7 4.5,177.2C4.6,177.7 3.0,178.6 1.8,178.9C0.6,179.2 -1.9,179.0 -2.7,179.0Z" fill="#DEB887"/>
<path d="M26.3,-2.4C26.3,-1.9 27.1,-2.1 26.1,0.5C25.1,3.1 22.4,8.7 20.1,13.4C17.8,18.2 14.3,24.7 12.3,29.0C10.3,33.3 8.9,35.7 8.0,39.4C7.1,43.2 6.4,48.2 7.1,51.5C7.8,54.8 9.9,57.0 12.3,59.3C14.8,61.6 18.9,64.0 21.8,65.3C24.7,66.6 27.2,67.4 29.6,67.1C32.1,66.8 34.5,65.9 36.5,63.6C38.5,61.3 40.3,57.2 41.7,53.2C43.1,49.2 44.4,44.0 45.1,39.4C45.8,34.8 46.1,30.2 46.0,25.6C45.9,21.0 45.0,15.9 44.6,11.7C44.2,7.5 43.6,2.9 43.4,0.5C43.2,-1.9 43.3,-1.9 43.3,-2.4Z" fill="#FFE100"/>
<path d="M93.3,-2.4C93.4,-1.9 93.1,-1.3 93.6,0.5C94.1,2.3 94.9,5.7 96.2,8.3C97.5,10.9 99.2,13.8 101.4,16.0C103.6,18.2 106.7,20.7 109.3,21.2C111.9,21.7 114.7,20.3 117.1,19.1C119.6,18.0 122.0,16.3 124.0,14.3C126.0,12.4 127.7,9.6 129.2,7.4C130.6,5.2 132.1,2.5 132.7,0.9C133.3,-0.7 132.9,-1.8 132.9,-2.4Z" fill="#FFE100"/>
<path d="M158.3,-2.4C158.3,-1.8 158.6,-0.9 158.2,0.9C157.8,2.7 156.9,5.2 156.0,8.3C155.1,11.4 153.6,15.8 152.6,19.5C151.6,23.2 150.2,27.5 150.0,30.7C149.8,33.9 151.0,35.9 151.7,38.5C152.4,41.1 153.5,43.6 154.3,46.3C155.1,49.0 155.7,52.4 156.4,54.6C157.1,56.9 157.8,58.1 158.6,59.8C159.4,61.5 160.2,63.7 161.2,65.0C162.1,66.3 162.9,67.5 164.3,67.6C165.7,67.7 167.9,67.1 169.5,65.8C171.1,64.5 172.8,61.7 173.8,59.8C174.9,57.9 174.9,56.9 175.8,54.6C176.7,52.4 178.0,49.7 179.0,46.3C180.0,42.9 181.0,39.1 181.6,34.2C182.3,29.3 182.8,22.5 182.9,16.9C183.1,11.4 182.6,4.1 182.5,0.9C182.4,-2.3 182.5,-1.8 182.5,-2.4Z" fill="#FFE100"/>
<path d="M83.2,177.1C83.3,175.8 84.5,173.9 85.8,172.7C87.1,171.6 88.7,170.5 91.0,170.2C93.3,169.9 96.6,171.0 99.7,171.0C102.7,171.0 106.8,170.2 109.3,170.2C111.8,170.2 112.9,170.3 114.5,171.0C116.1,171.7 117.8,173.5 118.8,174.5C119.8,175.5 120.9,176.2 120.5,177.1C120.1,178.1 118.1,179.6 116.2,180.2C114.3,180.8 111.8,180.9 109.3,180.9C106.8,180.9 103.9,180.0 101.4,180.1C98.9,180.2 96.5,180.9 94.5,181.4C92.5,181.9 90.9,183.3 89.3,183.1C87.7,183.0 85.9,181.5 84.9,180.5C83.9,179.5 83.0,178.4 83.2,177.1Z" fill="#FFE100"/>
<path d="M173.0,0.9C172.2,1.2 170.9,2.4 169.5,4.8C168.1,7.2 165.8,11.9 164.3,15.2C162.8,18.5 161.5,21.8 160.3,24.7C159.1,27.6 157.5,29.8 157.3,32.5C157.1,35.2 158.3,38.5 159.0,41.1C159.7,43.7 160.5,45.8 161.2,48.0C161.9,50.2 162.5,53.2 163.3,54.6C164.2,56.0 165.2,56.6 166.3,56.6C167.4,56.6 168.8,56.6 169.9,54.6C171.0,52.6 172.1,48.0 173.0,44.6C173.9,41.2 174.9,37.4 175.5,34.2C176.1,31.0 176.4,29.2 176.4,25.6C176.4,22.0 175.9,16.4 175.5,12.6C175.1,8.9 174.6,5.1 174.2,3.1C173.8,1.2 173.8,0.6 173.0,0.9Z" fill="#FFA500"/>
<path d="M-2.7,83.1C-2.1,83.2 -1.1,83.1 1.0,83.5C3.1,83.9 6.5,84.5 9.7,85.2C12.9,85.9 16.7,87.1 20.1,87.8C23.6,88.5 27.0,89.5 30.4,89.6C33.9,89.8 37.3,89.3 40.8,88.7C44.3,88.1 48.0,87.0 51.2,86.1C54.4,85.2 58.0,84.9 59.9,83.5C61.8,82.1 62.1,80.0 62.4,77.5C62.7,75.0 61.8,72.0 61.6,68.8C61.4,65.6 60.9,61.6 61.2,58.4C61.5,55.2 62.2,52.5 63.3,49.8C64.4,47.1 65.9,43.9 67.6,42.0C69.3,40.1 70.9,39.1 73.7,38.5C76.4,37.9 80.4,38.1 84.1,38.5C87.9,38.9 92.0,40.3 96.2,41.1C100.4,41.9 105.7,42.7 109.3,43.1C112.9,43.5 115.1,43.4 118.0,43.3C120.9,43.2 124.3,42.5 126.6,42.4C128.9,42.3 130.2,42.3 131.8,42.9C133.4,43.5 134.9,44.6 136.1,45.9C137.3,47.2 138.2,49.2 139.1,50.6C140.0,52.1 140.8,52.5 141.7,54.6C142.6,56.7 143.8,60.4 144.8,63.3C145.8,66.2 146.7,69.0 147.4,71.9C148.1,74.8 148.6,77.7 149.1,80.6C149.6,83.5 150.2,87.8 150.4,89.2L150.4,89.2C151.3,89.0 153.7,88.4 156.0,87.9C158.3,87.4 161.3,87.4 164.3,86.2C167.3,85.0 171.1,82.8 173.8,80.6C176.5,78.4 178.6,75.7 180.3,72.8C182.0,69.9 182.7,66.3 183.8,63.3C184.9,60.3 185.8,57.4 186.7,54.6C187.6,51.8 188.5,49.7 189.4,46.3C190.3,42.9 191.5,39.1 192.0,34.2C192.5,29.3 192.3,22.5 192.4,16.9C192.5,11.4 192.4,4.1 192.4,0.9C192.4,-2.3 192.4,-1.8 192.4,-2.4L223.3,-2.4L223.3,168.6L223.3,168.6C222.6,168.7 221.3,168.9 219.3,169.3C217.3,169.7 214.2,170.4 211.4,171.0C208.6,171.6 205.6,171.8 202.7,172.7C199.8,173.6 197.0,174.9 194.1,176.2C191.2,177.5 188.0,179.3 185.4,180.5C182.8,181.7 180.4,183.2 178.5,183.1C176.6,183.0 175.9,182.2 174.2,179.7C172.5,177.3 170.3,171.7 168.1,168.4C165.9,165.1 163.9,162.4 161.2,159.8C158.5,157.2 154.1,155.5 151.7,152.9C149.2,150.3 147.4,147.7 146.5,144.2C145.6,140.7 147.1,136.4 146.5,132.1C145.9,127.8 143.9,122.1 143.0,118.3C142.1,114.6 141.8,111.9 141.3,109.6C140.8,107.3 140.2,105.2 140.0,104.3L140.0,104.3C139.2,104.7 137.0,105.6 135.3,106.5C133.7,107.4 131.8,108.5 130.1,109.6C128.4,110.7 126.9,112.1 124.9,113.1C122.9,114.1 120.6,115.1 118.0,115.7C115.4,116.3 112.1,116.4 109.3,116.5C106.5,116.6 104.2,116.8 101.4,116.2C98.6,115.6 95.0,114.2 92.7,113.1C90.4,112.0 89.2,110.8 87.5,109.6C85.8,108.4 84.5,106.9 82.3,106.1C80.1,105.4 76.6,104.9 74.3,105.1C72.0,105.3 69.8,106.2 68.3,107.1C66.9,108.0 66.2,108.5 65.6,110.6C65.0,112.8 65.7,116.9 64.8,120.0C63.9,123.1 62.4,126.6 60.3,129.5C58.2,132.3 55.3,134.8 52.3,137.1C49.3,139.4 44.8,140.9 42.3,143.1C39.8,145.4 39.2,148.2 37.4,150.6C35.6,153.0 33.8,155.9 31.3,157.6C28.8,159.3 25.6,160.2 22.3,160.9C19.0,161.6 14.9,161.5 11.3,161.6C7.8,161.7 3.3,161.5 1.0,161.5C-1.3,161.5 -2.1,161.5 -2.7,161.5Z" fill="#BCEE68"/>
<path d="M-2.7,93.1C-2.1,93.1 -1.2,93.2 1.0,93.3C3.2,93.4 6.9,93.4 10.3,93.6C13.7,93.8 17.6,94.4 21.3,94.7C25.0,95.0 28.6,95.5 32.3,95.5C36.0,95.5 40.6,94.7 43.3,94.7C46.1,94.7 47.2,94.9 48.8,95.5C50.5,96.1 52.0,96.8 53.2,98.2C54.4,99.6 55.4,101.5 56.0,103.7C56.6,105.9 56.4,108.9 56.5,111.4C56.6,113.9 57.1,116.4 56.5,118.6C55.9,120.8 55.0,122.5 53.2,124.6C51.4,126.7 48.2,129.0 45.5,131.2C42.8,133.4 39.6,135.6 36.7,137.8C33.8,140.0 30.6,142.3 27.9,144.4C25.2,146.5 23.1,148.8 20.3,150.6C17.6,152.4 14.6,154.3 11.4,155.4C8.2,156.5 3.3,156.9 1.0,157.2C-1.3,157.5 -2.1,157.4 -2.7,157.4Z" fill="#20B2AA"/>
<path d="M75.4,44.9C77.9,44.0 80.6,43.6 84.1,43.7C87.6,43.8 92.0,45.0 96.2,45.4C100.4,45.8 105.7,46.1 109.3,46.3C112.9,46.5 115.1,46.6 118.0,46.7C120.9,46.8 124.5,46.6 126.6,47.0C128.8,47.4 129.6,48.0 130.9,48.9C132.2,49.8 133.6,51.5 134.4,52.4C135.2,53.4 135.1,52.5 135.7,54.6C136.3,56.7 137.1,62.0 137.8,65.0C138.5,68.0 139.6,70.8 140.0,72.8C140.4,74.8 140.5,75.1 140.0,77.1C139.5,79.1 138.4,82.3 137.0,84.9C135.6,87.5 133.8,90.5 131.8,92.7C129.8,94.9 127.5,96.9 124.9,98.3C122.3,99.7 118.8,100.8 116.2,101.3C113.6,101.8 112.1,101.9 109.3,101.4C106.6,100.9 103.0,99.5 99.7,98.2C96.4,97.0 92.5,95.3 89.3,93.9C86.1,92.5 82.8,91.5 80.6,89.6C78.4,87.7 77.7,85.5 76.3,82.6C74.9,79.7 73.3,75.8 72.0,72.3C70.7,68.9 69.3,64.9 68.5,61.9C67.7,58.9 67.0,56.3 67.1,54.1C67.3,51.9 68.0,50.4 69.4,48.9C70.8,47.4 73.0,45.8 75.4,44.9Z" fill="#20B2AA"/>
<path d="M194.3,-2.4C194.3,-1.8 194.3,-2.3 194.4,0.9C194.5,4.1 194.8,11.4 195.0,16.9C195.2,22.5 195.7,29.3 195.4,34.2C195.1,39.1 194.0,42.9 193.3,46.3C192.6,49.7 192.2,51.8 191.1,54.6C190.0,57.4 188.2,60.3 186.8,63.3C185.4,66.3 184.8,69.6 182.9,72.8C181.0,76.0 178.6,79.4 175.5,82.3C172.4,85.2 166.7,88.6 164.3,90.2C161.9,91.9 162.4,91.2 161.2,92.2C160.0,93.2 158.3,94.3 156.9,96.1C155.5,97.9 153.9,100.8 152.6,103.0C151.3,105.2 150.1,107.1 149.1,109.6C148.1,112.2 146.7,115.1 146.5,118.3C146.3,121.5 146.7,125.2 147.7,128.6C148.7,132.1 150.4,135.5 152.6,139.0C154.9,142.5 158.3,146.4 161.2,149.4C164.1,152.4 167.6,155.0 169.9,157.2C172.2,159.4 173.0,160.8 175.0,162.4C177.0,164.0 179.7,166.3 182.0,166.7C184.3,167.1 186.3,166.2 188.9,165.0C191.5,163.8 194.3,161.7 197.5,159.8C200.7,157.9 204.3,155.3 207.9,153.7C211.5,152.1 216.7,151.0 219.3,150.3C221.9,149.6 222.6,149.7 223.3,149.6L223.3,-2.4Z" fill="#20B2AA"/>
<path d="M-2.7,99.5C-2.1,99.5 -1.2,99.5 1.0,99.5C3.2,99.5 6.9,99.4 10.3,99.5C13.7,99.6 17.6,99.8 21.3,99.9C25.0,100.0 29.0,100.1 32.3,100.2C35.6,100.3 38.7,100.2 41.1,100.4C43.5,100.6 45.2,100.4 46.6,101.5C48.0,102.6 48.7,105.0 49.4,107.0C50.1,109.0 50.6,111.7 51.0,113.6C51.4,115.5 52.5,116.8 52.1,118.6C51.7,120.4 50.6,122.7 48.8,124.6C47.0,126.5 44.0,127.9 41.1,130.1C38.2,132.3 34.5,135.4 31.2,137.8C27.9,140.2 24.2,142.5 21.3,144.4C18.4,146.3 16.1,148.1 13.6,149.4C11.1,150.7 8.4,151.5 6.3,152.1C4.2,152.7 2.5,152.7 1.0,152.9C-0.5,153.1 -2.1,153.1 -2.7,153.1Z" fill="#B0E0E6"/>
<path d="M77.2,48.9C79.1,48.0 80.9,47.9 84.1,48.0C87.3,48.1 92.0,49.4 96.2,49.8C100.4,50.2 105.7,50.2 109.3,50.4C112.9,50.6 115.5,50.6 118.0,50.8C120.5,51.1 122.4,51.4 124.0,51.9C125.6,52.4 126.7,53.3 127.5,53.7C128.3,54.2 128.2,53.0 128.8,54.6C129.4,56.2 130.1,60.4 130.9,63.3C131.7,66.2 133.0,69.8 133.5,71.9C134.0,74.0 134.4,74.1 134.0,75.8C133.6,77.5 132.3,80.2 130.9,82.3C129.5,84.4 127.7,86.6 125.7,88.3C123.7,90.0 121.0,91.7 118.8,92.7C116.7,93.7 114.4,94.1 112.8,94.4C111.2,94.7 111.2,95.0 109.3,94.6C107.4,94.2 104.2,93.3 101.4,92.2C98.6,91.1 95.6,89.5 92.7,87.8C89.8,86.1 86.4,84.4 84.1,81.8C81.8,79.2 80.5,75.6 78.9,72.3C77.3,69.0 75.6,65.1 74.6,61.9C73.6,58.7 72.4,55.4 72.8,53.2C73.2,51.0 75.3,49.8 77.2,48.9Z" fill="#B0E0E6"/>
<path d="M196.3,-2.4C196.3,-1.8 196.1,-2.3 196.3,0.9C196.5,4.1 197.2,11.4 197.6,16.9C198.0,22.5 198.9,29.3 198.9,34.2C198.9,39.1 198.2,42.9 197.6,46.3C197.0,49.7 196.7,51.8 195.5,54.6C194.3,57.4 192.0,60.3 190.3,63.3C188.6,66.3 187.3,69.4 185.1,72.8C182.9,76.3 180.8,80.5 177.3,84.0C173.8,87.5 167.1,91.8 164.3,94.0C161.5,96.2 161.7,95.5 160.3,97.0C158.9,98.5 157.4,100.9 156.0,103.0C154.6,105.1 153.1,107.1 151.9,109.6C150.8,112.2 149.3,115.1 149.1,118.3C148.9,121.5 149.4,125.2 150.8,128.6C152.2,132.1 154.5,135.7 157.7,139.0C160.9,142.3 166.4,146.2 169.9,148.5C173.4,150.8 175.9,152.2 178.5,152.9C181.1,153.6 182.5,153.2 185.4,152.5C188.3,151.8 192.1,150.0 195.8,148.5C199.6,147.0 204.0,144.6 207.9,143.3C211.8,142.0 216.7,141.2 219.3,140.7C221.9,140.2 222.6,140.2 223.3,140.1L223.3,-2.4Z" fill="#B0E0E6"/>
<path d="M-2.7,103.2C-2.1,103.2 -1.2,103.2 1.0,103.2C3.2,103.2 6.9,103.1 10.3,103.2C13.7,103.3 17.6,103.6 21.3,104.0C25.0,104.4 29.0,104.9 32.3,105.7C35.6,106.5 38.8,107.4 41.1,108.7C43.4,110.0 45.0,111.9 46.1,113.6C47.2,115.3 48.2,117.3 47.7,119.1C47.2,120.9 45.5,122.8 43.3,124.6C41.1,126.4 37.6,127.9 34.5,130.1C31.4,132.3 27.7,135.6 24.6,137.8C21.5,140.0 18.9,141.7 15.8,143.3C12.7,145.0 8.4,146.8 5.9,147.7C3.4,148.6 2.4,148.6 1.0,148.8C-0.4,149.0 -2.1,149.0 -2.7,149.0Z" fill="#789BF2"/>
<path d="M85.8,52.4C88.1,52.3 92.5,52.5 94.5,53.2C96.5,53.9 96.8,55.8 97.9,56.7C99.1,57.6 99.5,58.2 101.4,58.4C103.3,58.6 107.1,57.7 109.3,57.9C111.5,58.1 112.8,58.5 114.5,59.4C116.2,60.3 118.1,61.7 119.7,63.3C121.3,65.0 122.9,67.4 124.0,69.3C125.1,71.2 126.3,72.8 126.2,74.5C126.0,76.2 124.5,78.1 123.1,79.7C121.7,81.4 119.7,83.3 118.0,84.4C116.3,85.5 114.3,85.9 112.8,86.2C111.4,86.5 110.6,86.6 109.3,86.0C108.0,85.4 106.7,83.9 104.8,82.6C102.9,81.3 100.1,80.0 97.9,78.3C95.8,76.6 93.3,74.3 91.9,72.3C90.5,70.3 90.6,68.2 89.3,66.2C88.0,64.2 85.6,62.2 84.1,60.2C82.7,58.2 80.3,55.4 80.6,54.1C80.9,52.8 83.5,52.6 85.8,52.4Z" fill="#789BF2"/>
<path d="M198.8,-2.4C198.8,-1.8 198.6,-2.3 198.9,0.9C199.2,4.1 200.0,11.4 200.6,16.9C201.3,22.5 202.4,29.3 202.8,34.2C203.2,39.1 203.4,42.9 203.2,46.3C203.0,49.7 203.1,52.1 201.8,54.6C200.5,57.1 197.6,58.6 195.4,61.5C193.2,64.4 191.2,67.9 188.5,71.9C185.8,75.9 183.0,81.4 179.0,85.7C175.0,90.0 167.7,94.9 164.3,97.9C160.9,100.9 160.2,101.9 158.6,103.9C157.0,105.8 155.7,107.2 154.5,109.6C153.3,112.0 151.9,115.4 151.7,118.3C151.5,121.2 151.8,124.0 153.4,126.9C155.0,129.8 157.6,132.9 161.2,135.6C164.8,138.3 171.0,141.7 175.0,143.3C179.0,144.9 181.7,145.5 185.4,145.1C189.2,144.7 193.5,142.2 197.5,140.7C201.5,139.3 206.0,137.4 209.6,136.4C213.2,135.4 217.0,135.1 219.3,134.7C221.6,134.3 222.6,134.3 223.3,134.2L223.3,-2.4Z" fill="#789BF2"/>
<path d="M-2.7,105.7C-2.1,105.7 -1.2,105.7 1.0,105.7C3.2,105.7 6.9,105.7 10.3,105.9C13.7,106.1 17.6,106.3 21.3,107.0C25.0,107.7 29.2,108.7 32.3,109.8C35.4,110.9 38.1,112.1 40.0,113.6C41.9,115.2 44.3,117.3 43.9,119.1C43.5,120.9 40.3,122.7 37.8,124.6C35.3,126.5 32.1,128.5 29.0,130.7C25.9,132.9 22.2,135.8 19.1,137.8C16.0,139.8 13.3,141.6 10.3,142.8C7.3,144.0 3.2,144.6 1.0,145.0C-1.2,145.4 -2.1,145.3 -2.7,145.4Z" fill="#3C64E6"/>
<path d="M104.0,75.7C104.0,75.0 105.7,73.7 106.6,73.1C107.5,72.5 108.3,72.1 109.3,71.9C110.3,71.7 111.5,71.3 112.8,71.9C114.1,72.5 117.1,74.5 117.1,75.4C117.1,76.3 114.1,77.0 112.8,77.5C111.5,78.0 110.3,78.1 109.3,78.1C108.3,78.1 107.5,77.9 106.6,77.5C105.7,77.1 104.0,76.4 104.0,75.7Z" fill="#3C64E6"/>
<path d="M201.3,-2.4C201.3,-1.8 201.0,-2.3 201.5,0.9C202.0,4.1 203.1,11.4 204.1,16.9C205.1,22.5 206.6,29.3 207.6,34.2C208.6,39.1 209.6,42.9 210.1,46.3C210.6,49.7 211.9,51.8 210.6,54.6C209.3,57.4 205.2,60.1 202.4,63.3C199.6,66.5 197.2,69.6 193.7,73.6C190.2,77.6 186.5,82.7 181.6,87.5C176.7,92.3 167.7,99.6 164.3,102.6C160.9,105.6 162.3,104.4 161.2,105.6C160.1,106.8 158.8,107.5 157.7,109.6C156.6,111.7 154.7,115.7 154.6,118.3C154.5,120.9 155.2,122.9 156.9,125.2C158.6,127.5 161.4,130.0 164.7,132.1C168.0,134.3 173.1,137.1 176.8,138.1C180.6,139.1 183.4,138.8 187.2,138.1C190.9,137.4 195.3,135.2 199.3,133.8C203.3,132.4 208.1,130.5 211.4,129.5C214.7,128.5 217.3,128.2 219.3,127.8C221.3,127.4 222.6,127.3 223.3,127.2L223.3,-2.4Z" fill="#3C64E6"/>
<path d="M-2.7,111.4C-2.1,111.4 -1.2,111.4 1.0,111.4C3.2,111.4 6.9,111.1 10.3,111.6C13.7,112.1 18.2,113.2 21.3,114.2C24.4,115.2 27.0,116.6 29.0,117.5C31.0,118.4 33.8,118.2 33.4,119.3C33.0,120.4 29.4,122.3 26.8,124.1C24.2,125.9 20.8,128.2 18.0,130.1C15.2,132.0 12.5,134.3 10.3,135.6C8.1,136.9 6.4,137.3 4.8,137.8C3.3,138.3 2.2,138.3 1.0,138.4C-0.2,138.5 -2.1,138.6 -2.7,138.6Z" fill="#0000C8"/>
<path d="M205.3,-2.4C205.3,-1.8 205.0,-1.2 205.4,0.9C205.8,3.0 206.7,6.8 207.6,10.0C208.5,13.2 209.7,17.5 211.0,20.4C212.3,23.3 213.9,25.5 215.3,27.3C216.7,29.1 218.0,30.2 219.3,31.2C220.6,32.3 222.6,33.2 223.3,33.6L223.3,-2.4Z" fill="#0000C8"/>
<path d="M223.3,71.6C222.6,71.9 221.1,71.9 219.3,73.2C217.5,74.6 215.5,77.8 212.7,79.7C209.9,81.7 206.1,83.0 202.4,84.9C198.7,86.8 194.1,88.9 190.3,90.9C186.6,92.9 182.8,95.2 179.9,97.0C177.0,98.8 174.9,100.1 173.0,101.7C171.1,103.3 170.4,105.3 168.6,106.6C166.9,107.9 163.9,108.0 162.5,109.6C161.1,111.3 160.5,114.5 160.3,116.5C160.1,118.5 159.9,120.0 161.2,121.7C162.5,123.4 165.2,125.3 168.1,126.9C171.0,128.5 175.0,130.6 178.5,131.2C182.0,131.8 184.9,131.4 188.9,130.4C192.9,129.4 198.7,126.7 202.7,125.2C206.7,123.8 210.3,122.4 213.1,121.7C215.9,121.0 217.6,121.0 219.3,120.8C221.0,120.6 222.6,120.6 223.3,120.6Z" fill="#0000C8"/>
<path d="M-2.7,114.6C-2.1,114.6 -1.2,114.5 1.0,114.7C3.2,114.9 7.5,115.3 10.3,115.8C13.1,116.4 15.9,117.4 18.0,118.0C20.1,118.6 23.2,118.4 23.0,119.3C22.8,120.2 19.0,121.9 16.9,123.5C14.8,125.1 12.3,127.4 10.3,129.0C8.3,130.7 6.4,132.5 4.8,133.4C3.3,134.3 2.2,134.3 1.0,134.5C-0.2,134.7 -2.1,134.6 -2.7,134.6Z" fill="#9370DB"/>
<path d="M210.5,-2.4C210.5,-1.8 210.2,-0.9 210.6,0.9C211.0,2.7 211.8,6.1 212.7,8.3C213.6,10.5 215.1,12.8 216.2,14.3C217.3,15.8 218.1,16.4 219.3,17.3C220.5,18.2 222.6,19.2 223.3,19.6L223.3,-2.4Z" fill="#9370DB"/>
<path d="M171.2,119.1C171.0,118.1 175.5,115.6 177.6,115.1C179.7,114.6 182.4,115.5 183.7,116.2C185.0,116.9 186.3,118.2 185.4,119.1C184.5,120.0 180.9,121.4 178.5,121.4C176.1,121.4 171.3,120.2 171.2,119.1Z" fill="#9370DB"/>
<path d="M193.0,223.6C193.0,222.3 193.0,219.4 193.0,215.6C193.0,211.8 192.8,204.5 193.0,201.0C193.2,197.5 193.5,196.1 193.9,194.6C194.3,193.1 194.5,193.1 195.3,191.9C196.1,190.7 197.4,188.6 198.9,187.4C200.4,186.2 202.5,185.8 204.3,184.6C206.1,183.4 207.8,181.2 209.8,180.1C211.8,179.1 214.5,178.8 216.2,178.3C217.9,177.9 218.6,177.6 219.8,177.4C221.0,177.2 222.7,177.2 223.3,177.1L223.3,223.6Z" fill="#DEB887"/>
<path d="M195.3,223.6C195.3,222.3 195.3,218.6 195.3,215.6C195.3,212.6 195.2,208.8 195.3,205.6C195.4,202.4 195.2,199.0 195.6,196.6C196.0,194.2 196.8,192.5 197.8,191.1C198.8,189.7 200.3,188.9 201.8,188.2C203.3,187.5 205.5,187.4 206.8,186.9C208.1,186.4 209.0,185.9 209.8,185.2C210.6,184.6 211.1,183.5 211.8,183.0C212.5,182.5 213.0,182.2 213.8,182.2C214.6,182.2 215.9,182.6 216.8,182.9C217.7,183.2 218.3,183.6 219.4,184.0C220.5,184.4 222.7,184.9 223.3,185.1L223.3,223.6Z" fill="#FFE100"/>
<path d="M196.4,223.6C196.4,222.3 196.4,219.8 196.4,215.6C196.4,211.4 196.1,202.4 196.4,198.6C196.7,194.8 197.3,194.3 198.3,192.8C199.3,191.3 200.7,190.3 202.3,189.6C203.9,188.9 206.2,188.8 207.8,188.4C209.4,188.0 210.8,187.4 211.8,187.0C212.8,186.6 213.0,186.0 213.8,185.9C214.6,185.8 215.8,186.0 216.8,186.2C217.8,186.4 218.7,187.0 219.8,187.2C220.9,187.4 222.7,187.5 223.3,187.6L223.3,223.6Z" fill="#FFA500"/>
<rect x="197.4" y="189.6" width="40" height="27.9" rx="6.3" ry="6.3" fill="#FF4500"/>
<rect x="198.5" y="190.6" width="40" height="26.2" rx="5.5" ry="5.5" fill="#B22222"/>
<rect x="200.2" y="191.9" width="40" height="23.9" rx="4.5" ry="4.5" fill="#FFB6C1"/>
<rect x="201.9" y="193.2" width="40" height="21.6" rx="3.5" ry="3.5" fill="#FF1493"/>
<rect x="66.3" y="187.8" width="1.3" height="1.3" fill="#fff"/>
<path d="M99.3,223.6C100.3,222.7 103.0,219.0 105.3,218.2C107.6,217.4 110.8,218.7 113.3,218.9C115.8,219.1 118.1,219.4 120.3,219.2C122.5,219.1 124.3,218.2 126.3,218.0C128.3,217.8 130.5,217.7 132.3,217.8C134.1,217.9 135.5,218.5 137.3,218.8C139.1,219.1 139.6,219.4 143.3,219.5C147.0,219.6 155.1,219.6 159.3,219.6C163.5,219.7 166.6,219.1 168.3,219.8C170.0,220.5 169.1,223.0 169.3,223.6Z" fill="#93BB30"/>
<path d="M-2.7,215.3C-2.1,215.3 -2.2,215.1 1.0,215.3C4.2,215.5 11.1,216.1 16.6,216.5C22.1,216.9 29.3,217.5 33.9,217.6C38.5,217.7 40.0,217.7 44.3,217.2C48.6,216.7 55.3,214.6 59.9,214.4C64.5,214.2 67.1,215.9 72.0,216.2C76.9,216.5 85.3,215.9 89.3,216.2C93.3,216.5 93.9,217.5 96.2,217.9C98.5,218.3 101.1,218.2 103.3,218.4C105.5,218.6 107.5,218.3 109.3,219.2C111.1,220.1 113.5,222.9 114.3,223.6L-2.7,223.6Z" fill="#BCEE68"/>
<path d="M23.3,223.6C23.6,222.8 23.6,219.9 25.3,219.0C27.0,218.1 29.6,218.4 33.3,218.2C37.0,218.0 41.6,218.2 47.3,218.0C53.0,217.8 62.0,217.3 67.3,217.2C72.6,217.1 76.0,217.2 79.3,217.4C82.6,217.6 85.3,217.4 87.3,218.4C89.3,219.4 90.6,222.7 91.3,223.6Z" fill="#20B2AA"/>
<path d="M33.3,223.6C34.6,222.9 37.3,220.3 41.3,219.6C45.3,218.9 51.6,219.3 57.3,219.2C63.0,219.1 70.8,219.0 75.3,219.1C79.8,219.2 82.3,218.9 84.3,219.6C86.3,220.4 86.8,222.9 87.3,223.6Z" fill="#3C64E6"/>
<path d="M168.1,215.9L213.2,215.9L213.2,198.2L223.3,198.2L223.3,223.6L168.1,223.6Z" fill="#fff"/>
</g>
<rect x="0" y="0" width="220.0" height="220.3" fill="none" stroke="#000" stroke-width="1.25"/>
<path d="M-6.2,0.00H0 M-6.2,32.09H0 M-6.2,53.23H0 M-6.2,75.64H0 M-6.2,101.11H0 M-6.2,119.19H0 M-6.2,133.21H0 M-6.2,144.66H0 M-6.2,162.73H0 M-6.2,176.75H0 M-6.2,197.89H0 M-6.2,210.09H0 M-6.2,220.30H0 M220.0,189.90h6 M220.0,155.41h6 M220.0,117.05h6 M220.0,77.44h6 M220.0,37.79h6 M185.12,0v-6.3 M185.12,220.3v6.3 M147.56,0v-6.3 M147.56,220.3v6.3 M110.00,0v-6.3 M110.00,220.3v6.3 M72.44,0v-6.3 M72.44,220.3v6.3 M34.88,0v-6.3 M34.88,220.3v6.3" stroke="#000" stroke-width="1.05" fill="none"/>
<path d="M210.16,0v-3.3 M210.16,220.3v3.3 M197.64,0v-3.3 M197.64,220.3v3.3 M172.60,0v-3.3 M172.60,220.3v3.3 M160.08,0v-3.3 M160.08,220.3v3.3 M135.04,0v-3.3 M135.04,220.3v3.3 M122.52,0v-3.3 M122.52,220.3v3.3 M97.48,0v-3.3 M97.48,220.3v3.3 M84.96,0v-3.3 M84.96,220.3v3.3 M59.92,0v-3.3 M59.92,220.3v3.3 M47.40,0v-3.3 M47.40,220.3v3.3 M22.36,0v-3.3 M22.36,220.3v3.3 M9.84,0v-3.3 M9.84,220.3v3.3" stroke="#000" stroke-width="0.6" fill="none"/>
<text transform="translate(-11.4,3.40) scale(0.93,1)" font-size="9.8" font-family='"Liberation Sans", sans-serif' text-anchor="end" stroke="#000" stroke-width="0.15">30</text>
<text transform="translate(-11.4,35.49) scale(0.93,1)" font-size="9.8" font-family='"Liberation Sans", sans-serif' text-anchor="end" stroke="#000" stroke-width="0.15">50</text>
<text transform="translate(-11.4,56.63) scale(0.93,1)" font-size="9.8" font-family='"Liberation Sans", sans-serif' text-anchor="end" stroke="#000" stroke-width="0.15">70</text>
<text transform="translate(-11.4,79.04) scale(0.93,1)" font-size="9.8" font-family='"Liberation Sans", sans-serif' text-anchor="end" stroke="#000" stroke-width="0.15">100</text>
<text transform="translate(-11.4,104.51) scale(0.93,1)" font-size="9.8" font-family='"Liberation Sans", sans-serif' text-anchor="end" stroke="#000" stroke-width="0.15">150</text>
<text transform="translate(-11.4,122.59) scale(0.93,1)" font-size="9.8" font-family='"Liberation Sans", sans-serif' text-anchor="end" stroke="#000" stroke-width="0.15">200</text>
<text transform="translate(-11.4,136.61) scale(0.93,1)" font-size="9.8" font-family='"Liberation Sans", sans-serif' text-anchor="end" stroke="#000" stroke-width="0.15">250</text>
<text transform="translate(-11.4,148.06) scale(0.93,1)" font-size="9.8" font-family='"Liberation Sans", sans-serif' text-anchor="end" stroke="#000" stroke-width="0.15">300</text>
<text transform="translate(-11.4,166.13) scale(0.93,1)" font-size="9.8" font-family='"Liberation Sans", sans-serif' text-anchor="end" stroke="#000" stroke-width="0.15">400</text>
<text transform="translate(-11.4,180.15) scale(0.93,1)" font-size="9.8" font-family='"Liberation Sans", sans-serif' text-anchor="end" stroke="#000" stroke-width="0.15">500</text>
<text transform="translate(-11.4,201.29) scale(0.93,1)" font-size="9.8" font-family='"Liberation Sans", sans-serif' text-anchor="end" stroke="#000" stroke-width="0.15">700</text>
<text transform="translate(-11.4,213.49) scale(0.93,1)" font-size="9.8" font-family='"Liberation Sans", sans-serif' text-anchor="end" stroke="#000" stroke-width="0.15">850</text>
<text transform="translate(-11.4,223.70) scale(0.93,1)" font-size="9.8" font-family='"Liberation Sans", sans-serif' text-anchor="end" stroke="#000" stroke-width="0.15">1000</text>
<text transform="translate(231.3,193.30) scale(0.93,1)" font-size="9.8" font-family='"Liberation Sans", sans-serif' text-anchor="start" stroke="#000" stroke-width="0.15">4</text>
<text transform="translate(231.3,158.81) scale(0.93,1)" font-size="9.8" font-family='"Liberation Sans", sans-serif' text-anchor="start" stroke="#000" stroke-width="0.15">8</text>
<text transform="translate(231.3,120.45) scale(0.93,1)" font-size="9.8" font-family='"Liberation Sans", sans-serif' text-anchor="start" stroke="#000" stroke-width="0.15">12</text>
<text transform="translate(231.3,80.84) scale(0.93,1)" font-size="9.8" font-family='"Liberation Sans", sans-serif' text-anchor="start" stroke="#000" stroke-width="0.15">16</text>
<text transform="translate(231.3,41.19) scale(0.93,1)" font-size="9.8" font-family='"Liberation Sans", sans-serif' text-anchor="start" stroke="#000" stroke-width="0.15">20</text>
<text transform="translate(34.88,238.5) scale(0.95,1)" font-size="9.8" font-family='"Liberation Sans", sans-serif' text-anchor="middle" stroke="#000" stroke-width="0.15">60N</text>
<text transform="translate(72.44,238.5) scale(0.95,1)" font-size="9.8" font-family='"Liberation Sans", sans-serif' text-anchor="middle" stroke="#000" stroke-width="0.15">30N</text>
<text transform="translate(110.00,238.5) scale(0.95,1)" font-size="9.8" font-family='"Liberation Sans", sans-serif' text-anchor="middle" stroke="#000" stroke-width="0.15">0</text>
<text transform="translate(147.56,238.5) scale(0.95,1)" font-size="9.8" font-family='"Liberation Sans", sans-serif' text-anchor="middle" stroke="#000" stroke-width="0.15">30S</text>
<text transform="translate(185.12,238.5) scale(0.95,1)" font-size="9.8" font-family='"Liberation Sans", sans-serif' text-anchor="middle" stroke="#000" stroke-width="0.15">60S</text>
<text transform="translate(42.90,-28.299999999999955) scale(1.2154,1)" font-size="14.2" font-family='"Liberation Serif", serif' fill="#222">b01.01ibis</text>
<text transform="translate(124.10,-28.299999999999955) scale(1.0988,1)" font-size="14.2" font-family='"Liberation Serif", serif' fill="#222">&#8722;</text>
<text transform="translate(142.20,-28.299999999999955) scale(0.9919,1)" font-size="14.2" font-family='"Liberation Serif", serif' fill="#222">NCEP</text>
<text transform="translate(-0.20,-9.9) scale(1.3000,1)" font-size="13.2" font-family='"Liberation Serif", serif' letter-spacing="0.096" fill="#222">Temperature</text>
<text transform="translate(212.50,-6.6) scale(0.7589,1)" font-size="14.6" font-family='"Liberation Serif", serif' fill="#222">K</text>
<text transform="translate(-41.1,163.30) rotate(-90) scale(1.3000,1)" font-size="13.6" font-family='"Liberation Serif", serif' letter-spacing="0.462" fill="#222">Pressure</text>
<text transform="translate(-41.1,91.00) rotate(-90) scale(1.3000,1)" font-size="13.6" font-family='"Liberation Serif", serif' letter-spacing="0.264" fill="#222">(mb)</text>
<text transform="translate(258.8,155.10) rotate(-90) scale(1.3000,1)" font-size="13.6" font-family='"Liberation Serif", serif' letter-spacing="0.981" fill="#222">Height</text>
<text transform="translate(258.8,92.90) rotate(-90) scale(1.1007,1)" font-size="13.6" font-family='"Liberation Serif", serif' fill="#222">(km)</text>
</g>
<rect x="55.70" y="329.2" width="13.4" height="20" fill="#9370DB" stroke="#000" stroke-width="0.6"/>
<rect x="69.10" y="329.2" width="13.4" height="20" fill="#0000C8" stroke="#000" stroke-width="0.6"/>
<rect x="82.50" y="329.2" width="13.4" height="20" fill="#3C64E6" stroke="#000" stroke-width="0.6"/>
<rect x="95.90" y="329.2" width="13.4" height="20" fill="#789BF2" stroke="#000" stroke-width="0.6"/>
<rect x="109.30" y="329.2" width="13.4" height="20" fill="#B0E0E6" stroke="#000" stroke-width="0.6"/>
<rect x="122.70" y="329.2" width="13.4" height="20" fill="#20B2AA" stroke="#000" stroke-width="0.6"/>
<rect x="136.10" y="329.2" width="13.4" height="20" fill="#BCEE68" stroke="#000" stroke-width="0.6"/>
<rect x="149.50" y="329.2" width="13.4" height="20" fill="#93BB30" stroke="#000" stroke-width="0.6"/>
<rect x="162.90" y="329.2" width="13.4" height="20" fill="#F5E6BE" stroke="#000" stroke-width="0.6"/>
<rect x="176.30" y="329.2" width="13.4" height="20" fill="#DEB887" stroke="#000" stroke-width="0.6"/>
<rect x="189.70" y="329.2" width="13.4" height="20" fill="#FFE100" stroke="#000" stroke-width="0.6"/>
<rect x="203.10" y="329.2" width="13.4" height="20" fill="#FFA500" stroke="#000" stroke-width="0.6"/>
<rect x="216.50" y="329.2" width="13.4" height="20" fill="#FF4500" stroke="#000" stroke-width="0.6"/>
<rect x="229.90" y="329.2" width="13.4" height="20" fill="#B22222" stroke="#000" stroke-width="0.6"/>
<rect x="243.30" y="329.2" width="13.4" height="20" fill="#FFB6C1" stroke="#000" stroke-width="0.6"/>
<rect x="256.70" y="329.2" width="13.4" height="20" fill="#FF1493" stroke="#000" stroke-width="0.6"/>
<text transform="translate(60.45,361.7) scale(1.0,1)" font-size="10.2" font-family='"Liberation Sans", sans-serif' textLength="17.30" lengthAdjust="spacing" stroke="#000" stroke-width="0.15">180</text>
<text transform="translate(87.25,361.7) scale(1.0,1)" font-size="10.2" font-family='"Liberation Sans", sans-serif' textLength="17.30" lengthAdjust="spacing" stroke="#000" stroke-width="0.15">190</text>
<text transform="translate(114.05,361.7) scale(1.0,1)" font-size="10.2" font-family='"Liberation Sans", sans-serif' textLength="17.30" lengthAdjust="spacing" stroke="#000" stroke-width="0.15">210</text>
<text transform="translate(140.85,361.7) scale(1.0,1)" font-size="10.2" font-family='"Liberation Sans", sans-serif' textLength="17.30" lengthAdjust="spacing" stroke="#000" stroke-width="0.15">230</text>
<text transform="translate(167.65,361.7) scale(1.0,1)" font-size="10.2" font-family='"Liberation Sans", sans-serif' textLength="17.30" lengthAdjust="spacing" stroke="#000" stroke-width="0.15">250</text>
<text transform="translate(194.45,361.7) scale(1.0,1)" font-size="10.2" font-family='"Liberation Sans", sans-serif' textLength="17.30" lengthAdjust="spacing" stroke="#000" stroke-width="0.15">270</text>
<text transform="translate(221.25,361.7) scale(1.0,1)" font-size="10.2" font-family='"Liberation Sans", sans-serif' textLength="17.30" lengthAdjust="spacing" stroke="#000" stroke-width="0.15">290</text>
<text transform="translate(248.05,361.7) scale(1.0,1)" font-size="10.2" font-family='"Liberation Sans", sans-serif' textLength="17.30" lengthAdjust="spacing" stroke="#000" stroke-width="0.15">300</text>
<rect x="376.20" y="329.2" width="13.4" height="20" fill="#9370DB" stroke="#000" stroke-width="0.6"/>
<rect x="389.60" y="329.2" width="13.4" height="20" fill="#0000C8" stroke="#000" stroke-width="0.6"/>
<rect x="403.00" y="329.2" width="13.4" height="20" fill="#3C64E6" stroke="#000" stroke-width="0.6"/>
<rect x="416.40" y="329.2" width="13.4" height="20" fill="#789BF2" stroke="#000" stroke-width="0.6"/>
<rect x="429.80" y="329.2" width="13.4" height="20" fill="#B0E0E6" stroke="#000" stroke-width="0.6"/>
<rect x="443.20" y="329.2" width="13.4" height="20" fill="#20B2AA" stroke="#000" stroke-width="0.6"/>
<rect x="456.60" y="329.2" width="13.4" height="20" fill="#BCEE68" stroke="#000" stroke-width="0.6"/>
<rect x="470.00" y="329.2" width="13.4" height="20" fill="#93BB30" stroke="#000" stroke-width="0.6"/>
<rect x="483.40" y="329.2" width="13.4" height="20" fill="#F5E6BE" stroke="#000" stroke-width="0.6"/>
<rect x="496.80" y="329.2" width="13.4" height="20" fill="#DEB887" stroke="#000" stroke-width="0.6"/>
<rect x="510.20" y="329.2" width="13.4" height="20" fill="#FFE100" stroke="#000" stroke-width="0.6"/>
<rect x="523.60" y="329.2" width="13.4" height="20" fill="#FFA500" stroke="#000" stroke-width="0.6"/>
<rect x="537.00" y="329.2" width="13.4" height="20" fill="#FF4500" stroke="#000" stroke-width="0.6"/>
<rect x="550.40" y="329.2" width="13.4" height="20" fill="#B22222" stroke="#000" stroke-width="0.6"/>
<rect x="563.80" y="329.2" width="13.4" height="20" fill="#FFB6C1" stroke="#000" stroke-width="0.6"/>
<rect x="577.20" y="329.2" width="13.4" height="20" fill="#FF1493" stroke="#000" stroke-width="0.6"/>
<text transform="translate(380.95,361.7) scale(1.0,1)" font-size="10.2" font-family='"Liberation Sans", sans-serif' textLength="17.30" lengthAdjust="spacing" stroke="#000" stroke-width="0.15">180</text>
<text transform="translate(407.75,361.7) scale(1.0,1)" font-size="10.2" font-family='"Liberation Sans", sans-serif' textLength="17.30" lengthAdjust="spacing" stroke="#000" stroke-width="0.15">190</text>
<text transform="translate(434.55,361.7) scale(1.0,1)" font-size="10.2" font-family='"Liberation Sans", sans-serif' textLength="17.30" lengthAdjust="spacing" stroke="#000" stroke-width="0.15">210</text>
<text transform="translate(461.35,361.7) scale(1.0,1)" font-size="10.2" font-family='"Liberation Sans", sans-serif' textLength="17.30" lengthAdjust="spacing" stroke="#000" stroke-width="0.15">230</text>
<text transform="translate(488.15,361.7) scale(1.0,1)" font-size="10.2" font-family='"Liberation Sans", sans-serif' textLength="17.30" lengthAdjust="spacing" stroke="#000" stroke-width="0.15">250</text>
<text transform="translate(514.95,361.7) scale(1.0,1)" font-size="10.2" font-family='"Liberation Sans", sans-serif' textLength="17.30" lengthAdjust="spacing" stroke="#000" stroke-width="0.15">270</text>
<text transform="translate(541.75,361.7) scale(1.0,1)" font-size="10.2" font-family='"Liberation Sans", sans-serif' textLength="17.30" lengthAdjust="spacing" stroke="#000" stroke-width="0.15">290</text>
<text transform="translate(568.55,361.7) scale(1.0,1)" font-size="10.2" font-family='"Liberation Sans", sans-serif' textLength="17.30" lengthAdjust="spacing" stroke="#000" stroke-width="0.15">300</text>
<text transform="translate(77.10,319) scale(0.8514,1)" font-size="11.6" font-family='"Liberation Serif", serif' fill="#222">MIN</text>
<text transform="translate(103.50,319) scale(1.1158,1)" font-size="11.6" font-family='"Liberation Serif", serif' fill="#222">=</text>
<text transform="translate(118.00,319) scale(1.1787,1)" font-size="11.6" font-family='"Liberation Serif", serif' fill="#222">174.79</text>
<text transform="translate(167.50,319) scale(0.8015,1)" font-size="11.6" font-family='"Liberation Serif", serif' fill="#222">MAX</text>
<text transform="translate(198.30,319) scale(1.2075,1)" font-size="11.6" font-family='"Liberation Serif", serif' fill="#222">=</text>
<text transform="translate(210.90,319) scale(1.1693,1)" font-size="11.6" font-family='"Liberation Serif", serif' fill="#222">299.42</text>
<text transform="translate(397.60,319) scale(0.8514,1)" font-size="11.6" font-family='"Liberation Serif", serif' fill="#222">MIN</text>
<text transform="translate(424.00,319) scale(1.1158,1)" font-size="11.6" font-family='"Liberation Serif", serif' fill="#222">=</text>
<text transform="translate(438.50,319) scale(1.1787,1)" font-size="11.6" font-family='"Liberation Serif", serif' fill="#222">185.77</text>
<text transform="translate(488.00,319) scale(0.8015,1)" font-size="11.6" font-family='"Liberation Serif", serif' fill="#222">MAX</text>
<text transform="translate(518.80,319) scale(1.2075,1)" font-size="11.6" font-family='"Liberation Serif", serif' fill="#222">=</text>
<text transform="translate(531.40,319) scale(1.1693,1)" font-size="11.6" font-family='"Liberation Serif", serif' fill="#222">301.21</text>
<text transform="translate(463.10,441.8) scale(0.8204,1)" font-size="11.6" font-family='"Liberation Serif", serif' fill="#222">MIN</text>
<text transform="translate(489.30,441.8) scale(1.0852,1)" font-size="11.6" font-family='"Liberation Serif", serif' fill="#222">=</text>
<text transform="translate(503.80,441.8) scale(1.2231,1)" font-size="11.6" font-family='"Liberation Serif", serif' fill="#222">&#8722;11.04</text>
<text transform="translate(555.60,441.8) scale(0.7387,1)" font-size="11.6" font-family='"Liberation Serif", serif' fill="#222">MAX</text>
<text transform="translate(584.20,441.8) scale(1.0394,1)" font-size="11.6" font-family='"Liberation Serif", serif' fill="#222">=</text>
<text transform="translate(604.90,441.8) scale(1.1188,1)" font-size="11.6" font-family='"Liberation Serif", serif' fill="#222">14.36</text>
<rect x="524.4" y="460.10" width="31.5" height="11.07" fill="#FF1493" stroke="#000" stroke-width="0.6"/>
<rect x="524.4" y="471.17" width="31.5" height="11.07" fill="#FFB6C1" stroke="#000" stroke-width="0.6"/>
<rect x="524.4" y="482.24" width="31.5" height="11.07" fill="#B22222" stroke="#000" stroke-width="0.6"/>
<rect x="524.4" y="493.31" width="31.5" height="11.07" fill="#FF4500" stroke="#000" stroke-width="0.6"/>
<rect x="524.4" y="504.38" width="31.5" height="11.07" fill="#FFA500" stroke="#000" stroke-width="0.6"/>
<rect x="524.4" y="515.45" width="31.5" height="11.07" fill="#FFE100" stroke="#000" stroke-width="0.6"/>
<rect x="524.4" y="526.52" width="31.5" height="11.07" fill="#DEB887" stroke="#000" stroke-width="0.6"/>
<rect x="524.4" y="537.59" width="31.5" height="11.07" fill="#F5E6BE" stroke="#000" stroke-width="0.6"/>
<rect x="524.4" y="548.66" width="31.5" height="11.07" fill="#93BB30" stroke="#000" stroke-width="0.6"/>
<rect x="524.4" y="559.73" width="31.5" height="11.07" fill="#BCEE68" stroke="#000" stroke-width="0.6"/>
<rect x="524.4" y="570.80" width="31.5" height="11.07" fill="#20B2AA" stroke="#000" stroke-width="0.6"/>
<rect x="524.4" y="581.87" width="31.5" height="11.07" fill="#B0E0E6" stroke="#000" stroke-width="0.6"/>
<rect x="524.4" y="592.94" width="31.5" height="11.07" fill="#789BF2" stroke="#000" stroke-width="0.6"/>
<rect x="524.4" y="604.01" width="31.5" height="11.07" fill="#3C64E6" stroke="#000" stroke-width="0.6"/>
<rect x="524.4" y="615.08" width="31.5" height="11.07" fill="#0000C8" stroke="#000" stroke-width="0.6"/>
<rect x="524.4" y="626.15" width="31.5" height="11.07" fill="#9370DB" stroke="#000" stroke-width="0.6"/>
<text transform="translate(565.8,474.77) scale(1.0,1)" font-size="10.2" font-family='"Liberation Sans", sans-serif' text-anchor="middle" stroke="#000" stroke-width="0.15">9</text>
<text transform="translate(565.8,485.84) scale(1.0,1)" font-size="10.2" font-family='"Liberation Sans", sans-serif' text-anchor="middle" stroke="#000" stroke-width="0.15">7</text>
<text transform="translate(565.8,496.91) scale(1.0,1)" font-size="10.2" font-family='"Liberation Sans", sans-serif' text-anchor="middle" stroke="#000" stroke-width="0.15">5</text>
<text transform="translate(565.8,507.98) scale(1.0,1)" font-size="10.2" font-family='"Liberation Sans", sans-serif' text-anchor="middle" stroke="#000" stroke-width="0.15">4</text>
<text transform="translate(565.8,519.05) scale(1.0,1)" font-size="10.2" font-family='"Liberation Sans", sans-serif' text-anchor="middle" stroke="#000" stroke-width="0.15">3</text>
<text transform="translate(565.8,530.12) scale(1.0,1)" font-size="10.2" font-family='"Liberation Sans", sans-serif' text-anchor="middle" stroke="#000" stroke-width="0.15">2</text>
<text transform="translate(565.8,541.19) scale(1.0,1)" font-size="10.2" font-family='"Liberation Sans", sans-serif' text-anchor="middle" stroke="#000" stroke-width="0.15">1</text>
<text transform="translate(565.8,552.26) scale(1.0,1)" font-size="10.2" font-family='"Liberation Sans", sans-serif' text-anchor="middle" stroke="#000" stroke-width="0.15">0</text>
<text transform="translate(565.8,563.33) scale(1.0,1)" font-size="10.2" font-family='"Liberation Sans", sans-serif' text-anchor="middle" stroke="#000" stroke-width="0.15">&#8722;1</text>
<text transform="translate(565.8,574.40) scale(1.0,1)" font-size="10.2" font-family='"Liberation Sans", sans-serif' text-anchor="middle" stroke="#000" stroke-width="0.15">&#8722;2</text>
<text transform="translate(565.8,585.47) scale(1.0,1)" font-size="10.2" font-family='"Liberation Sans", sans-serif' text-anchor="middle" stroke="#000" stroke-width="0.15">&#8722;3</text>
<text transform="translate(565.8,596.54) scale(1.0,1)" font-size="10.2" font-family='"Liberation Sans", sans-serif' text-anchor="middle" stroke="#000" stroke-width="0.15">&#8722;4</text>
<text transform="translate(565.8,607.61) scale(1.0,1)" font-size="10.2" font-family='"Liberation Sans", sans-serif' text-anchor="middle" stroke="#000" stroke-width="0.15">&#8722;5</text>
<text transform="translate(565.8,618.68) scale(1.0,1)" font-size="10.2" font-family='"Liberation Sans", sans-serif' text-anchor="middle" stroke="#000" stroke-width="0.15">&#8722;7</text>
<text transform="translate(565.8,629.75) scale(1.0,1)" font-size="10.2" font-family='"Liberation Sans", sans-serif' text-anchor="middle" stroke="#000" stroke-width="0.15">&#8722;9</text>
</svg>
</body></html>
